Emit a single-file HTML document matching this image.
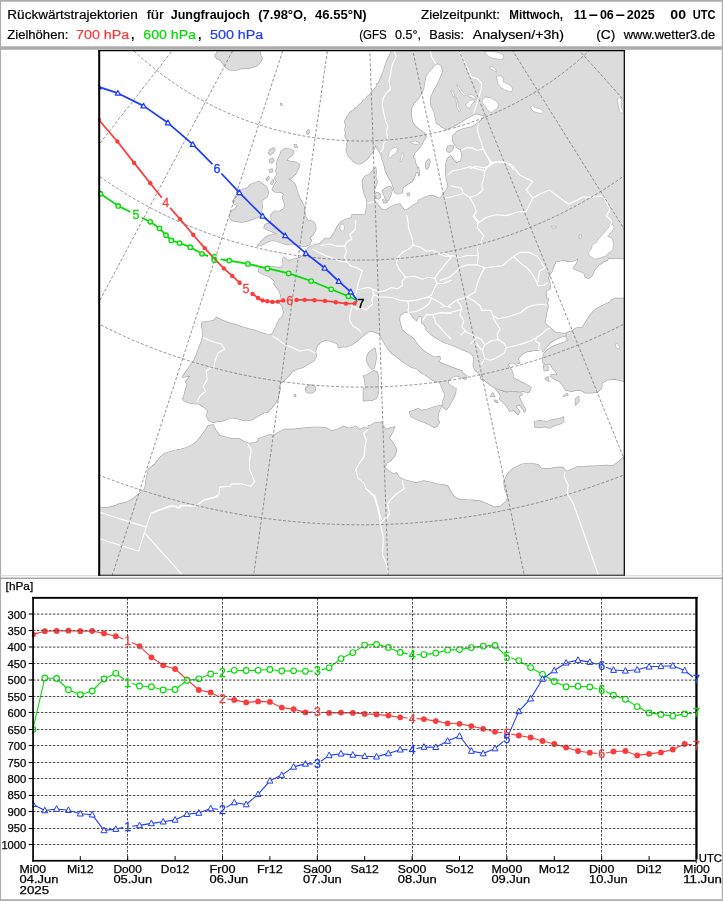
<!DOCTYPE html><html lang="de"><head><meta charset="utf-8"><title>Rückwärtstrajektorien Jungfraujoch</title>
<style>html,body{margin:0;padding:0;background:#fff;overflow:hidden}svg{display:block}text{font-family:"Liberation Sans",sans-serif}</style></head><body>
<svg width="723" height="901" viewBox="0 0 723 901">
<rect width="723" height="901" fill="#fff"/>
<rect x="0" y="0" width="723" height="1.7" fill="#adadad"/>
<rect x="0" y="0" width="1.1" height="901" fill="#adadad"/>
<rect x="721.8" y="0" width="1.2" height="901" fill="#adadad"/>
<rect x="0" y="899.2" width="723" height="1.8" fill="#adadad"/>
<rect x="0" y="46.3" width="723" height="3.5" fill="#adadad"/>
<rect x="0" y="575.2" width="723" height="1" fill="#d8d8d8"/>
<rect x="0" y="577.6" width="723" height="1.3" fill="#999"/>
<text x="7.3" y="19.0" font-size="12.5" fill="#000" textLength="130.4" lengthAdjust="spacingAndGlyphs" stroke="#000" stroke-width="0.2">Rückwärtstrajektorien</text>
<text x="146.7" y="19.0" font-size="12.5" fill="#000" textLength="17.3" lengthAdjust="spacingAndGlyphs" stroke="#000" stroke-width="0.2">für</text>
<text x="170.7" y="19.0" font-size="12.5" fill="#000" font-weight="bold" textLength="79.3" lengthAdjust="spacingAndGlyphs">Jungfraujoch</text>
<text x="258.3" y="19.0" font-size="12.5" fill="#000" font-weight="bold" textLength="48.4" lengthAdjust="spacingAndGlyphs">(7.98°O,</text>
<text x="315.0" y="19.0" font-size="12.5" fill="#000" font-weight="bold" textLength="51.7" lengthAdjust="spacingAndGlyphs">46.55°N)</text>
<text x="421.0" y="19.0" font-size="12.5" fill="#000" textLength="79.0" lengthAdjust="spacingAndGlyphs" stroke="#000" stroke-width="0.2">Zielzeitpunkt:</text>
<text x="509.3" y="19.0" font-size="12.5" fill="#000" font-weight="bold" textLength="53.7" lengthAdjust="spacingAndGlyphs">Mittwoch,</text>
<text x="573.7" y="19.0" font-size="12.5" fill="#000" font-weight="bold">11<tspan dx="1.2" textLength="10.6" lengthAdjust="spacingAndGlyphs">-</tspan><tspan dx="1.2">06</tspan><tspan dx="1.2" textLength="10.6" lengthAdjust="spacingAndGlyphs">-</tspan><tspan dx="1.2">2025</tspan></text>
<text x="670.3" y="19.0" font-size="12.5" fill="#000" font-weight="bold" textLength="15.7" lengthAdjust="spacingAndGlyphs">00</text>
<text x="692.7" y="19.0" font-size="12.5" fill="#000" font-weight="bold" textLength="22.8" lengthAdjust="spacingAndGlyphs">UTC</text>
<text x="7.3" y="38.6" font-size="12.5" fill="#000" textLength="61.0" lengthAdjust="spacingAndGlyphs" stroke="#000" stroke-width="0.2">Zielhöhen:</text>
<text x="76.0" y="38.6" font-size="12.5" fill="#fa3c3c" textLength="53.3" lengthAdjust="spacingAndGlyphs" stroke="#fa3c3c" stroke-width="0.2">700 hPa</text>
<text x="131.0" y="38.6" font-size="12.5" fill="#000" font-weight="bold">,</text>
<text x="143.3" y="38.6" font-size="12.5" fill="#00dc00" textLength="52.7" lengthAdjust="spacingAndGlyphs" stroke="#00dc00" stroke-width="0.2">600 hPa</text>
<text x="198.0" y="38.6" font-size="12.5" fill="#000" font-weight="bold">,</text>
<text x="210.0" y="38.6" font-size="12.5" fill="#1e3cff" textLength="53.3" lengthAdjust="spacingAndGlyphs" stroke="#1e3cff" stroke-width="0.2">500 hPa</text>
<text x="359.3" y="38.6" font-size="12.5" fill="#000" textLength="27.4" lengthAdjust="spacingAndGlyphs" stroke="#000" stroke-width="0.2">(GFS</text>
<text x="395.0" y="38.6" font-size="12.5" fill="#000" textLength="26.0" lengthAdjust="spacingAndGlyphs" stroke="#000" stroke-width="0.2">0.5°,</text>
<text x="429.3" y="38.6" font-size="12.5" fill="#000" textLength="34.7" lengthAdjust="spacingAndGlyphs" stroke="#000" stroke-width="0.2">Basis:</text>
<text x="472.7" y="38.6" font-size="12.5" fill="#000" textLength="91.3" lengthAdjust="spacingAndGlyphs" stroke="#000" stroke-width="0.2">Analysen/+3h)</text>
<text x="596.3" y="38.6" font-size="12.5" fill="#000" textLength="19.0" lengthAdjust="spacingAndGlyphs" stroke="#000" stroke-width="0.2">(C)</text>
<text x="623.7" y="38.6" font-size="12.5" fill="#000" textLength="91.6" lengthAdjust="spacingAndGlyphs" stroke="#000" stroke-width="0.2">www.wetter3.de</text>
<clipPath id="mc"><rect x="98.2" y="50.3" width="526.5999999999999" height="525.5"/></clipPath>
<g clip-path="url(#mc)">
<g fill="#dcdcdc" stroke="#a9a9a9" stroke-width="1.3" stroke-linejoin="round">
<polygon points="219.6,48.3 214.9,55.8 216.6,58.3 220.7,60.3 223.2,64.1 225.7,67.4 229.9,69.9 235.7,70.2 241.5,68.6 248.1,68.3 253.1,67.1 257.3,65.3 260.6,62.0 262.2,58.3 260.6,55.0 259.4,48.3"/>
<polygon points="280.5,103.4 282.2,104.1 281.7,105.4 280.7,104.8"/>
<polygon points="307.1,131.0 308.7,129.7 309.5,132.2 307.9,134.3 306.6,133.0"/>
<polygon points="294.3,144.6 296.3,144.9 296.9,147.3 294.6,147.3"/>
<polygon points="281.5,150.7 285.6,148.3 291.4,149.6 293.9,151.2 292.2,154.9 288.1,158.2 286.4,160.7 290.6,161.5 296.4,162.4 299.7,164.9 298.0,169.8 295.6,174.0 292.2,177.3 288.1,179.3 291.4,180.6 294.7,183.9 296.4,188.1 298.0,193.9 300.5,199.7 303.9,205.5 304.7,211.3 305.5,216.3 308.0,220.5 313.0,221.3 315.5,224.6 315.8,229.6 313.0,234.6 309.7,237.9 311.3,240.4 309.7,244.5 305.5,246.2 301.4,245.9 295.6,244.5 291.4,243.7 286.4,244.5 281.5,242.9 276.5,240.9 272.3,240.4 268.2,241.5 263.2,244.5 257.4,246.2 260.7,242.0 264.9,237.9 269.0,235.4 273.2,234.6 277.3,233.7 273.2,232.1 269.0,230.4 264.0,227.9 264.9,224.6 269.8,222.9 271.5,219.6 270.7,215.5 274.0,211.3 279.8,211.3 283.9,208.8 284.8,204.7 283.9,201.4 282.3,197.2 283.9,193.9 280.6,192.2 275.6,192.2 272.3,189.8 274.0,185.6 276.5,181.5 274.8,178.1 277.3,174.0 275.6,170.7 277.3,167.3 276.5,163.2 278.1,159.0 279.8,154.9"/>
<polygon points="268.5,153.2 269.8,149.9 273.5,147.9 275.1,149.6 272.8,152.9 269.8,154.9"/>
<polygon points="269.5,159.9 272.3,158.2 274.0,160.7 271.5,162.9 269.5,161.9"/>
<polygon points="269.0,169.8 272.3,169.0 272.8,171.5 269.8,172.3"/>
<polygon points="266.2,179.0 268.5,176.5 269.2,178.1 267.2,180.6"/>
<polygon points="270.7,183.1 272.8,179.8 273.8,181.5 271.8,184.4"/>
<polygon points="294.4,144.9 296.1,144.6 297.1,146.9 295.1,147.6"/>
<polygon points="249.9,184.8 254.9,182.8 259.0,181.5 262.4,183.9 266.5,187.3 268.5,192.2 267.3,196.4 264.0,198.9 261.5,201.4 262.4,206.3 261.5,211.3 259.9,215.5 256.6,218.0 251.6,219.6 246.6,221.0 241.6,222.1 236.6,221.3 231.7,220.5 230.0,218.0 230.0,213.8 232.5,210.5 235.8,208.0 237.5,205.5 234.1,203.9 232.5,201.4 235.0,198.0 238.3,195.6 236.6,192.2 240.0,189.8 244.9,188.9 248.3,187.3"/>
<polygon points="391.4,48.3 390.5,53.3 388.0,58.3 385.6,64.1 383.9,69.9 382.2,74.9 379.8,79.9 378.4,83.2 376.4,84.0 377.3,85.7 373.9,89.8 371.5,92.3 369.8,94.8 367.3,96.5 365.6,99.0 363.5,99.8 361.5,103.1 359.0,104.8 357.3,107.3 354.9,108.4 353.2,110.6 350.7,111.7 349.0,113.9 347.4,115.6 346.6,118.0 344.9,120.5 344.9,123.0 346.2,125.5 345.2,128.0 344.9,130.5 346.2,133.0 344.9,135.5 345.7,138.0 347.4,139.6 348.2,142.1 346.6,143.8 347.4,146.3 346.2,148.8 346.6,151.2 347.4,153.7 348.2,155.4 349.9,157.9 352.4,160.4 354.9,162.5 357.3,163.7 359.8,163.9 362.3,162.9 364.8,160.9 367.3,158.7 369.5,156.2 371.5,153.7 373.1,151.2 373.9,149.6 374.8,147.1 375.6,144.9 376.8,147.9 378.1,149.6 379.4,151.6 380.6,153.7 381.4,156.2 382.2,159.5 383.1,162.0 383.9,164.5 384.7,167.0 385.6,172.0 418.3,172.0 417.1,166.2 414.6,162.9 412.9,157.9 414.6,152.9 417.9,149.6 421.2,145.4 423.7,140.5 426.2,136.3 424.6,133.0 419.6,129.7 415.4,126.3 412.1,121.4 411.3,114.7 411.3,108.1 413.8,103.1 417.9,99.0 421.2,94.0 423.7,88.2 424.6,81.5 426.2,74.9 430.4,69.9 434.5,65.3 436.2,63.9 436.2,48.3"/>
<polygon points="425.6,166.2 426.2,162.0 428.7,159.2 429.9,160.9 428.7,164.5 427.1,168.2"/>
<polygon points="428.3,48.3 552.0,48.3 552.0,172.0 445.8,172.0 445.8,164.5 447.4,158.7 450.7,156.2 453.2,159.5 456.6,163.2 460.7,161.2 462.4,156.2 460.7,149.6 457.4,147.9 454.9,144.9 452.4,140.5 453.2,135.5 457.4,131.3 463.2,128.8 471.5,127.2 478.1,123.0 482.8,118.4 484.8,116.1 477.3,113.6 473.2,114.7 469.0,117.2 463.2,120.5 457.4,123.9 451.6,127.2 446.6,129.3 442.4,127.2 436.6,123.0 435.0,116.4 434.1,111.4 430.8,104.8 430.8,98.1 433.3,91.5 438.3,83.2 440.8,76.6 442.9,71.6 441.6,65.8 437.5,63.3 430.0,64.6 428.3,64.1"/>
<polygon points="446.6,149.6 447.9,146.3 450.7,145.3 453.6,146.3 452.6,149.6 449.6,152.2 447.3,151.6"/>
<polygon points="318.3,282.0 318.3,245.6 320.0,245.0 322.5,243.8 326.6,241.3 330.0,238.8 332.4,235.5 334.9,231.4 337.4,226.4 340.7,222.2 344.9,219.8 349.9,218.1 354.9,218.1 357.3,216.4 360.7,215.6 363.2,216.4 365.6,213.1 366.5,208.1 367.3,203.2 366.5,199.0 364.0,193.2 362.8,186.6 362.3,180.7 364.8,176.6 369.8,174.1 373.1,170.0 375.6,167.5 376.4,171.6 375.6,176.6 377.3,181.6 375.6,186.6 373.9,190.7 374.8,195.7 373.9,200.7 377.3,204.0 379.8,207.3 382.2,209.8 386.4,209.8 391.4,206.5 395.5,204.8 399.7,204.0 402.2,207.3 404.6,210.6 408.0,209.0 412.9,205.6 419.6,201.5 426.2,197.3 432.9,195.7 442.0,199.5 442.0,282.0"/>
<polygon points="384.4,158.3 384.7,163.3 385.6,170.0 388.0,176.6 391.4,181.6 393.0,186.6 394.7,192.4 398.0,194.0 402.2,192.4 403.0,187.4 406.3,184.9 412.1,181.6 415.4,174.9 416.3,166.6 414.6,158.3"/>
<polygon points="417.6,168.3 418.6,167.5 419.6,174.1 418.6,175.8"/>
<polygon points="425.9,168.0 426.6,162.5 428.7,160.0 429.9,161.7 428.7,166.6 427.1,169.1"/>
<polygon points="407.1,193.5 409.3,193.2 409.6,195.2 407.6,195.9"/>
<polygon points="374.8,194.0 377.3,192.4 380.1,194.0 380.7,197.3 378.1,199.0 375.6,197.8"/>
<polygon points="382.2,190.7 386.4,187.4 390.5,186.6 392.2,189.9 390.5,195.7 388.0,200.7 385.6,199.0 383.9,194.9"/>
<polygon points="382.7,199.8 385.6,200.7 387.2,202.3 383.9,202.8"/>
<polygon points="418.3,272.0 418.3,200.1 420.0,199.8 425.0,197.3 430.0,195.6 434.1,198.1 436.6,199.8 440.7,198.1 443.2,194.0 446.6,189.8 448.2,185.7 446.6,179.9 445.7,173.2 445.7,166.6 447.4,159.1 450.7,156.1 453.2,159.5 456.5,163.3 460.7,161.1 462.3,156.1 461.2,148.3 542.0,148.3 542.0,272.0"/>
<polygon points="536.0,48.0 627.0,48.0 627.0,202.0 536.0,202.0"/>
<polygon points="352.0,238.3 325.4,238.3 319.6,243.7 313.0,245.3 308.0,248.3 305.5,252.4 303.0,255.8 298.9,258.3 293.9,259.1 289.8,260.7 286.4,259.6 283.9,257.1 282.4,258.6 282.8,260.7 283.4,264.9 281.5,267.4 277.3,267.4 272.3,266.6 267.3,266.9 263.2,267.4 259.0,268.2 258.2,270.7 260.7,273.2 264.9,274.9 269.0,276.5 272.3,279.0 274.8,281.5 274.0,284.0 276.5,287.3 279.0,290.6 280.6,294.8 281.5,299.8 279.8,303.1 282.3,306.4 283.9,313.0 281.5,318.0 279.8,323.0 278.1,328.0 275.6,332.9 272.3,335.4 267.3,334.6 261.5,332.9 254.9,330.5 248.3,328.8 241.6,327.1 235.0,325.5 228.3,324.3 228.3,362.0 308.0,362.0 309.7,339.6 352.0,337.9"/>
<polygon points="252.0,331.2 250.0,330.7 242.9,327.4 236.2,324.9 229.6,323.2 222.9,320.7 216.3,317.4 213.8,320.7 208.0,321.6 202.2,322.4 201.4,326.6 203.0,330.7 203.0,335.7 201.4,341.5 198.9,348.1 196.4,354.8 193.9,360.6 189.8,366.4 185.6,372.2 182.3,377.2 187.3,376.3 190.6,375.5 187.3,379.7 185.6,382.2 187.3,384.6 185.6,389.6 183.9,396.3 183.9,400.4 188.9,402.9 194.7,403.7 199.7,403.7 203.9,406.2 208.0,409.5 210.5,412.9 208.0,416.2 209.7,420.0 213.0,422.0 222.9,420.8 229.6,418.2 239.5,417.3 252.0,418.2"/>
<polygon points="182.4,398.3 184.0,400.0 191.5,402.5 198.1,403.3 203.1,406.6 208.1,410.8 206.4,415.8 208.9,420.7 213.9,422.4 218.0,419.9 224.7,417.4 233.0,417.4 239.6,419.1 245.4,420.7 252.1,419.6 257.9,415.8 264.5,412.4 268.2,412.0 269.5,408.3 272.0,405.0 272.0,398.3"/>
<polygon points="148.3,469.4 150.0,468.0 155.0,463.9 160.0,457.3 166.6,453.1 174.9,450.6 183.2,449.0 191.5,445.6 197.3,441.5 201.5,435.7 205.6,429.9 208.1,425.7 213.1,424.9 215.6,429.9 219.7,435.7 226.3,437.3 233.0,439.0 239.6,439.0 243.8,441.5 249.6,443.5 256.2,442.3 261.2,439.0 266.2,436.5 272.0,434.9 272.0,522.0 148.3,522.0"/>
<polygon points="220.0,438.3 199.6,438.3 194.3,444.1 187.6,447.5 179.3,450.0 171.0,451.6 164.4,454.1 160.2,457.4 157.8,462.4 152.8,466.6 148.6,470.7 147.0,475.7 145.8,481.5 145.3,487.3 142.8,491.5 137.8,494.8 132.9,498.9 127.0,502.2 119.6,503.9 112.9,506.4 106.3,508.0 96.3,506.9 96.3,577.8 220.0,577.8"/>
<polygon points="215.0,512.0 627.0,512.0 627.0,578.0 215.0,578.0"/>
<polygon points="258.3,388.3 280.2,388.3 279.1,393.3 277.4,398.3 274.1,402.4 269.1,407.4 266.6,411.6 260.0,413.2 258.3,413.6"/>
<polygon points="258.3,438.5 260.0,438.1 265.0,436.5 269.1,434.8 272.4,437.3 276.6,433.5 284.1,429.5 293.2,429.5 303.2,428.2 313.1,427.3 321.4,427.3 327.2,428.2 331.4,431.2 336.3,429.5 339.7,428.5 343.0,426.2 348.0,428.2 352.1,428.2 355.9,426.5 359.6,429.5 364.6,427.3 367.9,429.0 374.5,424.0 382.0,421.9 382.0,512.0 258.3,512.0"/>
<polygon points="305.6,388.3 307.3,392.0 312.3,392.5 314.4,390.8 313.9,388.3"/>
<polygon points="368.3,426.0 370.0,425.7 374.1,423.2 378.3,422.4 382.4,424.0 385.8,429.8 389.9,428.2 394.9,426.8 392.4,432.3 389.1,438.1 393.2,443.1 396.6,449.8 394.9,455.6 390.7,460.5 386.6,463.0 384.9,468.0 389.1,471.3 393.2,473.8 396.6,473.0 399.0,477.1 403.2,479.6 409.8,481.3 416.5,482.9 423.1,481.0 429.8,482.1 436.4,483.8 443.0,484.9 447.7,485.9 450.5,491.2 453.8,496.2 458.0,499.2 466.3,499.9 474.6,500.4 482.9,502.5 492.0,505.9 492.0,522.0 368.3,522.0"/>
<polygon points="409.5,411.6 414.0,410.7 418.1,408.6 421.5,410.7 428.1,409.1 435.6,406.6 441.4,405.3 439.7,409.9 438.0,414.9 437.7,419.0 439.4,422.4 437.2,426.2 433.9,427.3 429.8,424.9 424.8,422.4 419.8,420.7 414.8,418.5 410.7,416.2"/>
<polygon points="443.9,388.3 445.5,394.1 443.0,401.6 442.7,406.6 446.3,409.6 449.3,404.9 451.3,400.8 452.2,396.6 455.5,393.3 456.0,388.3"/>
<polygon points="363.4,400.8 371.7,400.0 375.8,397.5 378.0,393.3 378.3,388.3 363.4,388.3"/>
<polygon points="477.9,500.6 480.0,501.2 486.2,503.7 494.5,507.5 500.7,506.2 505.9,501.7 508.0,497.5 504.9,489.2 503.9,482.0 507.0,474.7 513.2,468.5 521.5,464.3 529.8,463.3 538.1,464.7 541.2,468.5 548.5,468.9 556.8,467.4 563.0,467.4 566.1,471.6 571.3,469.5 577.5,466.8 587.9,466.4 598.3,466.0 606.6,465.4 612.8,466.0 618.0,462.2 623.2,457.7 627.3,455.6 627.3,532.8 477.9,532.8"/>
<polygon points="534.4,421.8 540.2,420.7 546.4,421.8 552.6,419.7 559.9,418.7 563.4,417.0 563.8,421.8 559.9,423.9 554.7,425.3 549.5,428.0 545.4,426.6 540.2,427.6 535.0,427.0"/>
<polygon points="248.3,330.3 250.0,330.3 256.6,331.3 263.3,334.1 269.9,336.1 273.2,332.4 275.7,327.5 277.4,323.3 279.9,318.3 372.0,318.3 372.0,330.0 370.0,330.8 366.2,333.3 361.2,337.4 356.2,341.6 351.2,344.9 346.3,346.9 341.3,346.6 336.3,343.2 331.3,341.2 325.5,340.2 321.4,341.6 317.2,345.7 315.6,350.7 316.1,356.5 313.9,360.7 308.1,364.0 303.1,367.3 297.3,369.0 292.3,371.5 289.0,375.6 284.9,379.8 280.7,383.1 278.2,388.0 277.4,393.9 278.2,398.8 274.9,403.8 271.6,408.0 268.3,411.3 263.3,412.9 258.3,415.4 253.3,418.8 248.3,419.9"/>
<polygon points="305.6,389.7 307.3,386.4 310.6,385.1 314.7,386.4 315.6,389.7 313.1,392.2 308.9,393.0 306.4,391.7"/>
<polygon points="294.1,395.0 295.5,394.7 295.8,396.0 294.5,396.3"/>
<polygon points="365.4,396.6 367.1,391.7 369.5,388.3 376.2,388.3 376.5,393.3 375.4,397.5 372.9,400.0 369.5,400.3 366.2,399.1"/>
<polygon points="338.3,347.8 340.0,347.3 345.0,345.6 350.0,343.2 355.8,339.8 360.7,335.7 364.9,331.5 367.4,329.9 373.2,331.5 379.0,334.0 382.3,339.0 384.8,344.0 388.1,349.0 391.5,353.1 396.4,356.4 401.4,360.6 406.4,363.9 411.4,367.2 417.2,368.9 421.3,373.0 426.3,375.5 430.5,378.8 434.6,381.3 439.6,382.2 441.2,385.5 442.9,390.5 445.4,394.6 445.4,399.6 443.7,405.4 446.2,409.5 449.5,405.4 452.0,400.4 454.5,396.3 455.4,391.3 452.9,387.1 448.7,384.6 447.9,381.3 451.2,378.0 456.2,375.5 462.0,376.7 462.0,371.0 456.2,368.9 449.5,366.4 442.9,363.9 437.9,361.4 440.4,358.9 439.6,356.4 434.6,357.3 429.6,354.8 424.6,351.5 420.5,348.1 417.2,344.0 413.9,339.0 409.7,335.7 405.6,333.2 402.2,329.9 400.6,324.9 399.4,319.9 399.8,315.8 403.9,312.4 408.9,311.6 411.4,314.9 413.9,318.3 416.7,320.7 418.0,316.6 420.5,315.8 422.2,319.1 421.3,322.4 424.6,324.9 426.6,329.9 430.3,333.9 435.3,337.2 440.2,340.5 445.2,343.0 451.9,345.0 462.0,347.1 462.0,298.3 338.3,298.3"/>
<polygon points="374.9,348.1 375.7,352.3 376.2,358.1 375.2,363.9 374.0,368.0 371.5,368.9 369.0,365.6 366.9,361.4 366.6,357.3 368.5,353.1 371.5,350.6"/>
<polygon points="374.0,370.5 377.3,372.2 378.5,378.0 377.8,384.6 378.5,390.5 377.3,396.3 375.7,398.8 372.4,397.9 370.7,400.4 367.4,399.6 365.2,395.4 366.2,389.6 365.2,383.8 364.6,378.8 363.2,376.0 366.6,375.0 370.7,373.0"/>
<polygon points="438.3,337.8 441.3,340.0 447.1,343.0 452.9,345.5 458.8,348.0 464.9,350.6 469.4,352.4 473.0,355.6 474.0,358.9 473.2,364.7 474.9,369.7 479.0,373.9 482.3,378.0 485.6,381.3 489.8,384.6 493.9,387.1 499.8,389.6 506.4,391.3 513.0,391.0 519.7,391.8 523.0,391.3 528.8,392.4 531.0,387.6 526.3,384.6 521.3,382.2 516.3,379.7 513.0,378.0 513.0,373.9 511.4,369.7 508.9,366.4 508.0,363.9 511.4,362.7 515.5,363.9 519.7,363.1 518.0,358.9 521.3,354.8 526.3,351.5 532.9,350.6 539.6,349.8 542.1,351.5 542.1,298.3 438.3,298.3"/>
<polygon points="456.6,369.7 458.3,370.5 463.2,373.0 466.6,376.3 465.7,379.3 462.4,378.0 457.4,375.5 455.8,375.5"/>
<polygon points="494.8,387.6 500.6,395.4 499.8,399.6 503.9,402.9 508.0,407.9 509.7,411.5 513.0,409.5 518.0,414.5 519.7,411.5 515.5,406.2 519.7,404.6 524.6,412.0 525.5,409.5 521.3,402.1 518.8,396.3 522.2,394.6 519.7,392.6 513.0,391.8 506.4,392.4 499.8,390.5"/>
<polygon points="490.6,396.3 492.8,392.9 494.8,396.6"/>
<polygon points="480.5,377.7 481.8,376.7 482.8,379.0 481.5,379.7"/>
<polygon points="494.4,400.2 497.3,401.2 497.8,402.6 495.1,401.6"/>
<polygon points="518.5,298.5 548.1,298.5 548.1,300.0 545.9,306.1 544.3,313.7 544.0,321.3 546.6,325.1 550.4,328.1 555.8,332.7 561.4,333.2 565.9,333.5 565.6,335.9 561.1,336.8 556.5,338.8 552.7,340.8 548.9,344.1 545.6,348.4 542.8,351.7 541.3,350.2 538.3,349.0 529.1,351.0 520.0,352.5 518.5,352.6"/>
<polygon points="566.4,332.7 571.7,331.2 576.3,328.1 582.4,327.4 585.4,322.8 590.0,315.2 594.5,310.6 602.2,306.1 609.8,302.3 614.3,298.5 626.5,298.5 626.5,381.4 625.0,381.4 614.3,379.1 606.7,379.9 602.2,382.9 601.4,388.2 597.6,392.0 591.5,392.8 585.4,392.8 580.9,390.5 577.1,389.8 571.7,391.3 565.6,389.8 562.6,385.2 559.6,381.4 554.2,379.1 550.4,376.1 551.9,374.5 557.3,375.3 555.8,371.5 552.7,368.5 550.4,363.9 546.6,364.7 542.8,362.4 542.8,357.1 544.3,353.2 547.4,350.2 551.2,347.2 558.0,344.4 565.6,341.8 568.7,339.9 566.4,338.0"/>
<polygon points="543.6,365.4 547.4,364.7 548.1,370.0 544.3,370.7"/>
<polygon points="545.1,378.4 548.1,376.8 548.9,381.4"/>
<polygon points="563.4,396.2 567.2,393.6 567.9,395.1"/>
<polygon points="575.5,398.9 578.6,396.6 579.0,401.2 575.5,405.0"/>
<polygon points="518.5,198.5 626.5,198.5 626.5,259.0 623.9,258.6 617.4,257.8 611.3,258.6 608.2,257.8 607.5,260.1 603.7,261.6 598.4,265.4 594.5,270.0 592.3,275.3 588.5,278.4 585.4,276.8 583.9,273.0 578.6,270.7 573.2,268.5 576.3,263.9 578.6,258.6 573.2,260.9 568.7,261.6 564.1,260.1 559.6,260.9 555.8,261.6 554.2,265.4 551.9,271.5 548.1,277.6 549.7,282.2 550.4,288.2 545.9,291.3 546.6,298.9 548.1,306.5 546.6,312.6 545.1,321.7 518.5,321.7"/>
<polygon points="626.5,298.1 623.9,298.9 617.4,301.2 612.0,299.7 609.8,302.7 603.7,305.0 597.6,308.0 593.0,311.8 590.0,316.4 588.2,321.7 626.5,321.7"/>
<polygon points="352.0,215.0 522.0,215.0 522.0,302.0 352.0,302.0"/>
</g>
<g fill="#dcdcdc" stroke="none">
<polygon points="219.6,48.3 214.9,55.8 216.6,58.3 220.7,60.3 223.2,64.1 225.7,67.4 229.9,69.9 235.7,70.2 241.5,68.6 248.1,68.3 253.1,67.1 257.3,65.3 260.6,62.0 262.2,58.3 260.6,55.0 259.4,48.3"/>
<polygon points="280.5,103.4 282.2,104.1 281.7,105.4 280.7,104.8"/>
<polygon points="307.1,131.0 308.7,129.7 309.5,132.2 307.9,134.3 306.6,133.0"/>
<polygon points="294.3,144.6 296.3,144.9 296.9,147.3 294.6,147.3"/>
<polygon points="281.5,150.7 285.6,148.3 291.4,149.6 293.9,151.2 292.2,154.9 288.1,158.2 286.4,160.7 290.6,161.5 296.4,162.4 299.7,164.9 298.0,169.8 295.6,174.0 292.2,177.3 288.1,179.3 291.4,180.6 294.7,183.9 296.4,188.1 298.0,193.9 300.5,199.7 303.9,205.5 304.7,211.3 305.5,216.3 308.0,220.5 313.0,221.3 315.5,224.6 315.8,229.6 313.0,234.6 309.7,237.9 311.3,240.4 309.7,244.5 305.5,246.2 301.4,245.9 295.6,244.5 291.4,243.7 286.4,244.5 281.5,242.9 276.5,240.9 272.3,240.4 268.2,241.5 263.2,244.5 257.4,246.2 260.7,242.0 264.9,237.9 269.0,235.4 273.2,234.6 277.3,233.7 273.2,232.1 269.0,230.4 264.0,227.9 264.9,224.6 269.8,222.9 271.5,219.6 270.7,215.5 274.0,211.3 279.8,211.3 283.9,208.8 284.8,204.7 283.9,201.4 282.3,197.2 283.9,193.9 280.6,192.2 275.6,192.2 272.3,189.8 274.0,185.6 276.5,181.5 274.8,178.1 277.3,174.0 275.6,170.7 277.3,167.3 276.5,163.2 278.1,159.0 279.8,154.9"/>
<polygon points="268.5,153.2 269.8,149.9 273.5,147.9 275.1,149.6 272.8,152.9 269.8,154.9"/>
<polygon points="269.5,159.9 272.3,158.2 274.0,160.7 271.5,162.9 269.5,161.9"/>
<polygon points="269.0,169.8 272.3,169.0 272.8,171.5 269.8,172.3"/>
<polygon points="266.2,179.0 268.5,176.5 269.2,178.1 267.2,180.6"/>
<polygon points="270.7,183.1 272.8,179.8 273.8,181.5 271.8,184.4"/>
<polygon points="294.4,144.9 296.1,144.6 297.1,146.9 295.1,147.6"/>
<polygon points="249.9,184.8 254.9,182.8 259.0,181.5 262.4,183.9 266.5,187.3 268.5,192.2 267.3,196.4 264.0,198.9 261.5,201.4 262.4,206.3 261.5,211.3 259.9,215.5 256.6,218.0 251.6,219.6 246.6,221.0 241.6,222.1 236.6,221.3 231.7,220.5 230.0,218.0 230.0,213.8 232.5,210.5 235.8,208.0 237.5,205.5 234.1,203.9 232.5,201.4 235.0,198.0 238.3,195.6 236.6,192.2 240.0,189.8 244.9,188.9 248.3,187.3"/>
<polygon points="391.4,48.3 390.5,53.3 388.0,58.3 385.6,64.1 383.9,69.9 382.2,74.9 379.8,79.9 378.4,83.2 376.4,84.0 377.3,85.7 373.9,89.8 371.5,92.3 369.8,94.8 367.3,96.5 365.6,99.0 363.5,99.8 361.5,103.1 359.0,104.8 357.3,107.3 354.9,108.4 353.2,110.6 350.7,111.7 349.0,113.9 347.4,115.6 346.6,118.0 344.9,120.5 344.9,123.0 346.2,125.5 345.2,128.0 344.9,130.5 346.2,133.0 344.9,135.5 345.7,138.0 347.4,139.6 348.2,142.1 346.6,143.8 347.4,146.3 346.2,148.8 346.6,151.2 347.4,153.7 348.2,155.4 349.9,157.9 352.4,160.4 354.9,162.5 357.3,163.7 359.8,163.9 362.3,162.9 364.8,160.9 367.3,158.7 369.5,156.2 371.5,153.7 373.1,151.2 373.9,149.6 374.8,147.1 375.6,144.9 376.8,147.9 378.1,149.6 379.4,151.6 380.6,153.7 381.4,156.2 382.2,159.5 383.1,162.0 383.9,164.5 384.7,167.0 385.6,172.0 418.3,172.0 417.1,166.2 414.6,162.9 412.9,157.9 414.6,152.9 417.9,149.6 421.2,145.4 423.7,140.5 426.2,136.3 424.6,133.0 419.6,129.7 415.4,126.3 412.1,121.4 411.3,114.7 411.3,108.1 413.8,103.1 417.9,99.0 421.2,94.0 423.7,88.2 424.6,81.5 426.2,74.9 430.4,69.9 434.5,65.3 436.2,63.9 436.2,48.3"/>
<polygon points="425.6,166.2 426.2,162.0 428.7,159.2 429.9,160.9 428.7,164.5 427.1,168.2"/>
<polygon points="428.3,48.3 552.0,48.3 552.0,172.0 445.8,172.0 445.8,164.5 447.4,158.7 450.7,156.2 453.2,159.5 456.6,163.2 460.7,161.2 462.4,156.2 460.7,149.6 457.4,147.9 454.9,144.9 452.4,140.5 453.2,135.5 457.4,131.3 463.2,128.8 471.5,127.2 478.1,123.0 482.8,118.4 484.8,116.1 477.3,113.6 473.2,114.7 469.0,117.2 463.2,120.5 457.4,123.9 451.6,127.2 446.6,129.3 442.4,127.2 436.6,123.0 435.0,116.4 434.1,111.4 430.8,104.8 430.8,98.1 433.3,91.5 438.3,83.2 440.8,76.6 442.9,71.6 441.6,65.8 437.5,63.3 430.0,64.6 428.3,64.1"/>
<polygon points="446.6,149.6 447.9,146.3 450.7,145.3 453.6,146.3 452.6,149.6 449.6,152.2 447.3,151.6"/>
<polygon points="318.3,282.0 318.3,245.6 320.0,245.0 322.5,243.8 326.6,241.3 330.0,238.8 332.4,235.5 334.9,231.4 337.4,226.4 340.7,222.2 344.9,219.8 349.9,218.1 354.9,218.1 357.3,216.4 360.7,215.6 363.2,216.4 365.6,213.1 366.5,208.1 367.3,203.2 366.5,199.0 364.0,193.2 362.8,186.6 362.3,180.7 364.8,176.6 369.8,174.1 373.1,170.0 375.6,167.5 376.4,171.6 375.6,176.6 377.3,181.6 375.6,186.6 373.9,190.7 374.8,195.7 373.9,200.7 377.3,204.0 379.8,207.3 382.2,209.8 386.4,209.8 391.4,206.5 395.5,204.8 399.7,204.0 402.2,207.3 404.6,210.6 408.0,209.0 412.9,205.6 419.6,201.5 426.2,197.3 432.9,195.7 442.0,199.5 442.0,282.0"/>
<polygon points="384.4,158.3 384.7,163.3 385.6,170.0 388.0,176.6 391.4,181.6 393.0,186.6 394.7,192.4 398.0,194.0 402.2,192.4 403.0,187.4 406.3,184.9 412.1,181.6 415.4,174.9 416.3,166.6 414.6,158.3"/>
<polygon points="417.6,168.3 418.6,167.5 419.6,174.1 418.6,175.8"/>
<polygon points="425.9,168.0 426.6,162.5 428.7,160.0 429.9,161.7 428.7,166.6 427.1,169.1"/>
<polygon points="407.1,193.5 409.3,193.2 409.6,195.2 407.6,195.9"/>
<polygon points="374.8,194.0 377.3,192.4 380.1,194.0 380.7,197.3 378.1,199.0 375.6,197.8"/>
<polygon points="382.2,190.7 386.4,187.4 390.5,186.6 392.2,189.9 390.5,195.7 388.0,200.7 385.6,199.0 383.9,194.9"/>
<polygon points="382.7,199.8 385.6,200.7 387.2,202.3 383.9,202.8"/>
<polygon points="418.3,272.0 418.3,200.1 420.0,199.8 425.0,197.3 430.0,195.6 434.1,198.1 436.6,199.8 440.7,198.1 443.2,194.0 446.6,189.8 448.2,185.7 446.6,179.9 445.7,173.2 445.7,166.6 447.4,159.1 450.7,156.1 453.2,159.5 456.5,163.3 460.7,161.1 462.3,156.1 461.2,148.3 542.0,148.3 542.0,272.0"/>
<polygon points="536.0,48.0 627.0,48.0 627.0,202.0 536.0,202.0"/>
<polygon points="352.0,238.3 325.4,238.3 319.6,243.7 313.0,245.3 308.0,248.3 305.5,252.4 303.0,255.8 298.9,258.3 293.9,259.1 289.8,260.7 286.4,259.6 283.9,257.1 282.4,258.6 282.8,260.7 283.4,264.9 281.5,267.4 277.3,267.4 272.3,266.6 267.3,266.9 263.2,267.4 259.0,268.2 258.2,270.7 260.7,273.2 264.9,274.9 269.0,276.5 272.3,279.0 274.8,281.5 274.0,284.0 276.5,287.3 279.0,290.6 280.6,294.8 281.5,299.8 279.8,303.1 282.3,306.4 283.9,313.0 281.5,318.0 279.8,323.0 278.1,328.0 275.6,332.9 272.3,335.4 267.3,334.6 261.5,332.9 254.9,330.5 248.3,328.8 241.6,327.1 235.0,325.5 228.3,324.3 228.3,362.0 308.0,362.0 309.7,339.6 352.0,337.9"/>
<polygon points="252.0,331.2 250.0,330.7 242.9,327.4 236.2,324.9 229.6,323.2 222.9,320.7 216.3,317.4 213.8,320.7 208.0,321.6 202.2,322.4 201.4,326.6 203.0,330.7 203.0,335.7 201.4,341.5 198.9,348.1 196.4,354.8 193.9,360.6 189.8,366.4 185.6,372.2 182.3,377.2 187.3,376.3 190.6,375.5 187.3,379.7 185.6,382.2 187.3,384.6 185.6,389.6 183.9,396.3 183.9,400.4 188.9,402.9 194.7,403.7 199.7,403.7 203.9,406.2 208.0,409.5 210.5,412.9 208.0,416.2 209.7,420.0 213.0,422.0 222.9,420.8 229.6,418.2 239.5,417.3 252.0,418.2"/>
<polygon points="182.4,398.3 184.0,400.0 191.5,402.5 198.1,403.3 203.1,406.6 208.1,410.8 206.4,415.8 208.9,420.7 213.9,422.4 218.0,419.9 224.7,417.4 233.0,417.4 239.6,419.1 245.4,420.7 252.1,419.6 257.9,415.8 264.5,412.4 268.2,412.0 269.5,408.3 272.0,405.0 272.0,398.3"/>
<polygon points="148.3,469.4 150.0,468.0 155.0,463.9 160.0,457.3 166.6,453.1 174.9,450.6 183.2,449.0 191.5,445.6 197.3,441.5 201.5,435.7 205.6,429.9 208.1,425.7 213.1,424.9 215.6,429.9 219.7,435.7 226.3,437.3 233.0,439.0 239.6,439.0 243.8,441.5 249.6,443.5 256.2,442.3 261.2,439.0 266.2,436.5 272.0,434.9 272.0,522.0 148.3,522.0"/>
<polygon points="220.0,438.3 199.6,438.3 194.3,444.1 187.6,447.5 179.3,450.0 171.0,451.6 164.4,454.1 160.2,457.4 157.8,462.4 152.8,466.6 148.6,470.7 147.0,475.7 145.8,481.5 145.3,487.3 142.8,491.5 137.8,494.8 132.9,498.9 127.0,502.2 119.6,503.9 112.9,506.4 106.3,508.0 96.3,506.9 96.3,577.8 220.0,577.8"/>
<polygon points="215.0,512.0 627.0,512.0 627.0,578.0 215.0,578.0"/>
<polygon points="258.3,388.3 280.2,388.3 279.1,393.3 277.4,398.3 274.1,402.4 269.1,407.4 266.6,411.6 260.0,413.2 258.3,413.6"/>
<polygon points="258.3,438.5 260.0,438.1 265.0,436.5 269.1,434.8 272.4,437.3 276.6,433.5 284.1,429.5 293.2,429.5 303.2,428.2 313.1,427.3 321.4,427.3 327.2,428.2 331.4,431.2 336.3,429.5 339.7,428.5 343.0,426.2 348.0,428.2 352.1,428.2 355.9,426.5 359.6,429.5 364.6,427.3 367.9,429.0 374.5,424.0 382.0,421.9 382.0,512.0 258.3,512.0"/>
<polygon points="305.6,388.3 307.3,392.0 312.3,392.5 314.4,390.8 313.9,388.3"/>
<polygon points="368.3,426.0 370.0,425.7 374.1,423.2 378.3,422.4 382.4,424.0 385.8,429.8 389.9,428.2 394.9,426.8 392.4,432.3 389.1,438.1 393.2,443.1 396.6,449.8 394.9,455.6 390.7,460.5 386.6,463.0 384.9,468.0 389.1,471.3 393.2,473.8 396.6,473.0 399.0,477.1 403.2,479.6 409.8,481.3 416.5,482.9 423.1,481.0 429.8,482.1 436.4,483.8 443.0,484.9 447.7,485.9 450.5,491.2 453.8,496.2 458.0,499.2 466.3,499.9 474.6,500.4 482.9,502.5 492.0,505.9 492.0,522.0 368.3,522.0"/>
<polygon points="409.5,411.6 414.0,410.7 418.1,408.6 421.5,410.7 428.1,409.1 435.6,406.6 441.4,405.3 439.7,409.9 438.0,414.9 437.7,419.0 439.4,422.4 437.2,426.2 433.9,427.3 429.8,424.9 424.8,422.4 419.8,420.7 414.8,418.5 410.7,416.2"/>
<polygon points="443.9,388.3 445.5,394.1 443.0,401.6 442.7,406.6 446.3,409.6 449.3,404.9 451.3,400.8 452.2,396.6 455.5,393.3 456.0,388.3"/>
<polygon points="363.4,400.8 371.7,400.0 375.8,397.5 378.0,393.3 378.3,388.3 363.4,388.3"/>
<polygon points="477.9,500.6 480.0,501.2 486.2,503.7 494.5,507.5 500.7,506.2 505.9,501.7 508.0,497.5 504.9,489.2 503.9,482.0 507.0,474.7 513.2,468.5 521.5,464.3 529.8,463.3 538.1,464.7 541.2,468.5 548.5,468.9 556.8,467.4 563.0,467.4 566.1,471.6 571.3,469.5 577.5,466.8 587.9,466.4 598.3,466.0 606.6,465.4 612.8,466.0 618.0,462.2 623.2,457.7 627.3,455.6 627.3,532.8 477.9,532.8"/>
<polygon points="534.4,421.8 540.2,420.7 546.4,421.8 552.6,419.7 559.9,418.7 563.4,417.0 563.8,421.8 559.9,423.9 554.7,425.3 549.5,428.0 545.4,426.6 540.2,427.6 535.0,427.0"/>
<polygon points="248.3,330.3 250.0,330.3 256.6,331.3 263.3,334.1 269.9,336.1 273.2,332.4 275.7,327.5 277.4,323.3 279.9,318.3 372.0,318.3 372.0,330.0 370.0,330.8 366.2,333.3 361.2,337.4 356.2,341.6 351.2,344.9 346.3,346.9 341.3,346.6 336.3,343.2 331.3,341.2 325.5,340.2 321.4,341.6 317.2,345.7 315.6,350.7 316.1,356.5 313.9,360.7 308.1,364.0 303.1,367.3 297.3,369.0 292.3,371.5 289.0,375.6 284.9,379.8 280.7,383.1 278.2,388.0 277.4,393.9 278.2,398.8 274.9,403.8 271.6,408.0 268.3,411.3 263.3,412.9 258.3,415.4 253.3,418.8 248.3,419.9"/>
<polygon points="305.6,389.7 307.3,386.4 310.6,385.1 314.7,386.4 315.6,389.7 313.1,392.2 308.9,393.0 306.4,391.7"/>
<polygon points="294.1,395.0 295.5,394.7 295.8,396.0 294.5,396.3"/>
<polygon points="365.4,396.6 367.1,391.7 369.5,388.3 376.2,388.3 376.5,393.3 375.4,397.5 372.9,400.0 369.5,400.3 366.2,399.1"/>
<polygon points="338.3,347.8 340.0,347.3 345.0,345.6 350.0,343.2 355.8,339.8 360.7,335.7 364.9,331.5 367.4,329.9 373.2,331.5 379.0,334.0 382.3,339.0 384.8,344.0 388.1,349.0 391.5,353.1 396.4,356.4 401.4,360.6 406.4,363.9 411.4,367.2 417.2,368.9 421.3,373.0 426.3,375.5 430.5,378.8 434.6,381.3 439.6,382.2 441.2,385.5 442.9,390.5 445.4,394.6 445.4,399.6 443.7,405.4 446.2,409.5 449.5,405.4 452.0,400.4 454.5,396.3 455.4,391.3 452.9,387.1 448.7,384.6 447.9,381.3 451.2,378.0 456.2,375.5 462.0,376.7 462.0,371.0 456.2,368.9 449.5,366.4 442.9,363.9 437.9,361.4 440.4,358.9 439.6,356.4 434.6,357.3 429.6,354.8 424.6,351.5 420.5,348.1 417.2,344.0 413.9,339.0 409.7,335.7 405.6,333.2 402.2,329.9 400.6,324.9 399.4,319.9 399.8,315.8 403.9,312.4 408.9,311.6 411.4,314.9 413.9,318.3 416.7,320.7 418.0,316.6 420.5,315.8 422.2,319.1 421.3,322.4 424.6,324.9 426.6,329.9 430.3,333.9 435.3,337.2 440.2,340.5 445.2,343.0 451.9,345.0 462.0,347.1 462.0,298.3 338.3,298.3"/>
<polygon points="374.9,348.1 375.7,352.3 376.2,358.1 375.2,363.9 374.0,368.0 371.5,368.9 369.0,365.6 366.9,361.4 366.6,357.3 368.5,353.1 371.5,350.6"/>
<polygon points="374.0,370.5 377.3,372.2 378.5,378.0 377.8,384.6 378.5,390.5 377.3,396.3 375.7,398.8 372.4,397.9 370.7,400.4 367.4,399.6 365.2,395.4 366.2,389.6 365.2,383.8 364.6,378.8 363.2,376.0 366.6,375.0 370.7,373.0"/>
<polygon points="438.3,337.8 441.3,340.0 447.1,343.0 452.9,345.5 458.8,348.0 464.9,350.6 469.4,352.4 473.0,355.6 474.0,358.9 473.2,364.7 474.9,369.7 479.0,373.9 482.3,378.0 485.6,381.3 489.8,384.6 493.9,387.1 499.8,389.6 506.4,391.3 513.0,391.0 519.7,391.8 523.0,391.3 528.8,392.4 531.0,387.6 526.3,384.6 521.3,382.2 516.3,379.7 513.0,378.0 513.0,373.9 511.4,369.7 508.9,366.4 508.0,363.9 511.4,362.7 515.5,363.9 519.7,363.1 518.0,358.9 521.3,354.8 526.3,351.5 532.9,350.6 539.6,349.8 542.1,351.5 542.1,298.3 438.3,298.3"/>
<polygon points="456.6,369.7 458.3,370.5 463.2,373.0 466.6,376.3 465.7,379.3 462.4,378.0 457.4,375.5 455.8,375.5"/>
<polygon points="494.8,387.6 500.6,395.4 499.8,399.6 503.9,402.9 508.0,407.9 509.7,411.5 513.0,409.5 518.0,414.5 519.7,411.5 515.5,406.2 519.7,404.6 524.6,412.0 525.5,409.5 521.3,402.1 518.8,396.3 522.2,394.6 519.7,392.6 513.0,391.8 506.4,392.4 499.8,390.5"/>
<polygon points="490.6,396.3 492.8,392.9 494.8,396.6"/>
<polygon points="480.5,377.7 481.8,376.7 482.8,379.0 481.5,379.7"/>
<polygon points="494.4,400.2 497.3,401.2 497.8,402.6 495.1,401.6"/>
<polygon points="518.5,298.5 548.1,298.5 548.1,300.0 545.9,306.1 544.3,313.7 544.0,321.3 546.6,325.1 550.4,328.1 555.8,332.7 561.4,333.2 565.9,333.5 565.6,335.9 561.1,336.8 556.5,338.8 552.7,340.8 548.9,344.1 545.6,348.4 542.8,351.7 541.3,350.2 538.3,349.0 529.1,351.0 520.0,352.5 518.5,352.6"/>
<polygon points="566.4,332.7 571.7,331.2 576.3,328.1 582.4,327.4 585.4,322.8 590.0,315.2 594.5,310.6 602.2,306.1 609.8,302.3 614.3,298.5 626.5,298.5 626.5,381.4 625.0,381.4 614.3,379.1 606.7,379.9 602.2,382.9 601.4,388.2 597.6,392.0 591.5,392.8 585.4,392.8 580.9,390.5 577.1,389.8 571.7,391.3 565.6,389.8 562.6,385.2 559.6,381.4 554.2,379.1 550.4,376.1 551.9,374.5 557.3,375.3 555.8,371.5 552.7,368.5 550.4,363.9 546.6,364.7 542.8,362.4 542.8,357.1 544.3,353.2 547.4,350.2 551.2,347.2 558.0,344.4 565.6,341.8 568.7,339.9 566.4,338.0"/>
<polygon points="543.6,365.4 547.4,364.7 548.1,370.0 544.3,370.7"/>
<polygon points="545.1,378.4 548.1,376.8 548.9,381.4"/>
<polygon points="563.4,396.2 567.2,393.6 567.9,395.1"/>
<polygon points="575.5,398.9 578.6,396.6 579.0,401.2 575.5,405.0"/>
<polygon points="518.5,198.5 626.5,198.5 626.5,259.0 623.9,258.6 617.4,257.8 611.3,258.6 608.2,257.8 607.5,260.1 603.7,261.6 598.4,265.4 594.5,270.0 592.3,275.3 588.5,278.4 585.4,276.8 583.9,273.0 578.6,270.7 573.2,268.5 576.3,263.9 578.6,258.6 573.2,260.9 568.7,261.6 564.1,260.1 559.6,260.9 555.8,261.6 554.2,265.4 551.9,271.5 548.1,277.6 549.7,282.2 550.4,288.2 545.9,291.3 546.6,298.9 548.1,306.5 546.6,312.6 545.1,321.7 518.5,321.7"/>
<polygon points="626.5,298.1 623.9,298.9 617.4,301.2 612.0,299.7 609.8,302.7 603.7,305.0 597.6,308.0 593.0,311.8 590.0,316.4 588.2,321.7 626.5,321.7"/>
<polygon points="352.0,215.0 522.0,215.0 522.0,302.0 352.0,302.0"/>
</g>
<g fill="#fff" stroke="#a9a9a9" stroke-width="0.6" stroke-linejoin="round">
<polygon points="484.8,52.0 488.1,51.3 496.4,52.0 503.0,54.1 503.9,58.3 500.5,59.6 494.7,58.6 489.8,57.5 486.4,54.6"/>
<polygon points="489.4,66.6 492.2,66.6 495.6,69.1 496.4,72.4 493.9,70.7 490.6,68.6"/>
<polygon points="496.4,76.6 500.5,75.7 503.9,78.2 503.0,81.5 508.0,84.0 512.2,87.3 512.5,90.7 509.7,91.8 504.7,89.8 500.5,87.3 497.7,83.2 497.2,79.9"/>
<polygon points="482.8,99.0 485.6,97.0 490.6,97.8 495.6,100.6 498.4,103.9 497.7,108.1 493.9,110.6 491.4,112.7 488.1,110.6 485.6,107.3 483.1,103.9 481.8,101.5"/>
<polygon points="530.4,107.3 533.7,104.8 534.2,107.3 540.4,108.9 543.7,111.4 542.0,113.4 537.1,112.7 532.9,111.1"/>
<polygon points="533.7,93.5 537.9,92.8 539.5,94.8 536.2,95.1"/>
<polygon points="454.6,97.8 455.9,99.8 456.9,107.3 459.2,111.7 460.5,111.1 458.5,106.4 457.2,99.8 455.9,97.3"/>
<polygon points="465.7,104.8 469.8,100.6 473.5,99.5 474.5,101.5 471.5,104.8 469.8,108.1 466.5,107.3"/>
<polygon points="467.8,95.1 471.5,94.5 475.6,97.3 474.8,99.8 471.5,97.3 468.5,96.8"/>
<polygon points="450.7,90.7 453.2,91.5 454.9,96.5 453.6,97.3"/>
<polygon points="456.6,84.9 458.2,85.2 462.4,91.5 465.7,94.8 464.9,96.1 460.7,92.8"/>
<polygon points="388.5,156.2 389.4,151.2 393.0,147.9 396.7,147.1 397.7,149.6 395.5,153.7 392.2,155.4 390.5,157.9"/>
<polygon points="400.0,160.9 401.3,155.4 403.0,152.6 403.8,154.6 402.5,159.5 401.0,162.0"/>
<polygon points="410.5,142.1 415.4,141.0 419.6,142.9 417.9,144.6 412.9,143.8"/>
<polygon points="339.9,225.6 342.4,223.9 344.6,226.4 344.1,230.5 341.6,231.4 339.9,228.9"/>
<polygon points="617.1,99.0 620.4,97.3 621.6,101.5 620.9,106.4 623.2,111.7 622.6,113.9 619.6,111.4 618.3,105.6"/>
<polygon points="615.1,344.1 617.4,343.4 619.7,347.2 618.9,349.0 616.2,347.9"/>
<polygon points="588.5,252.5 591.5,248.7 592.3,244.9 596.1,242.6 599.1,238.0 602.9,234.2 606.7,229.7 609.8,225.9 612.8,224.3 614.3,227.4 611.3,231.9 607.5,236.5 612.0,238.0 613.6,243.4 612.8,250.2 608.2,253.2 605.2,256.3 600.6,257.8 594.5,259.3 591.5,257.1 589.2,255.5"/>
<polygon points="551.2,226.2 555.8,226.2 556.5,227.7 552.7,228.1"/>
<polygon points="579.0,235.8 580.9,234.2 581.6,237.3 579.6,238.8"/>
</g>
<g fill="none" stroke="#fff" stroke-width="1.15" stroke-linejoin="round">
<polyline points="393.9,50.0 396.3,56.6 393.0,63.3 391.4,68.3 390.5,74.9 388.9,81.5 390.5,89.0 386.4,93.2 383.1,98.1 382.2,104.8 383.9,113.1 385.6,121.4 388.0,126.3 386.4,131.3 387.7,139.6 383.9,142.9 382.7,149.6 380.6,152.1"/>
<polyline points="430.4,50.0 431.5,56.6 434.5,61.6 436.2,64.1"/>
<polyline points="459.0,50.0 461.5,56.6 465.7,64.9 468.5,69.9 471.5,77.4 477.3,78.5 481.5,83.2 481.1,89.8 479.0,96.5 476.5,104.8 473.5,113.9"/>
<polyline points="478.5,123.0 477.3,129.7 479.0,136.3 481.5,142.9 483.1,148.8"/>
<polyline points="461.5,150.4 465.7,147.9 471.5,147.9 477.3,150.4 483.1,149.1 487.3,156.2 490.6,162.9 489.8,166.2"/>
<polyline points="469.8,168.7 475.6,166.2 483.1,167.8 489.8,166.2 493.1,162.9 499.7,162.0 506.3,162.9 511.3,164.5 513.0,170.0"/>
<polyline points="367.3,203.5 369.8,202.8 373.9,201.5"/>
<polyline points="447.4,174.9 453.2,170.7 461.5,169.1 469.8,166.6 478.1,169.1 484.7,170.7 491.4,162.4 486.4,155.0 483.9,150.0"/>
<polyline points="484.7,170.7 483.9,178.2 481.4,184.9 483.1,189.8 477.3,194.8 469.8,197.3"/>
<polyline points="444.9,198.1 453.2,196.5 463.2,193.5 461.5,188.2 450.7,185.7"/>
<polyline points="463.2,193.5 469.8,197.3 473.9,204.8 476.4,211.4 473.1,216.4 478.1,223.0"/>
<polyline points="478.1,223.0 486.4,217.2 496.3,214.7 506.3,215.6 516.3,212.2 526.2,211.4 532.9,198.1 540.0,194.0"/>
<polyline points="491.4,162.4 503.0,161.6 512.9,166.6 519.6,174.9 532.9,181.5 526.2,189.8 532.9,198.1"/>
<polyline points="272.3,335.9 278.1,339.6 284.8,344.6 293.1,347.9 299.7,351.2 308.0,349.5 315.5,352.9"/>
<polyline points="203.0,337.3 208.0,339.8 214.6,342.3 221.3,344.0 224.6,349.0 218.0,353.1 215.5,359.8 213.8,366.4 206.3,370.5 207.2,379.7 203.0,386.3 205.5,391.3 199.7,396.3 197.2,401.6"/>
<polyline points="247.1,443.5 251.2,449.8 249.6,459.8 249.6,469.7 254.6,481.3 251.2,486.3 241.3,483.8 231.3,483.8 230.5,486.3 219.7,487.1 218.9,494.6 213.1,497.9 203.1,500.4 196.5,506.2 179.9,505.4 179.0,507.9 171.6,505.4 160.0,509.5 150.0,514.5"/>
<polyline points="99.7,512.2 146.1,527.1 151.1,513.0 172.7,505.6 179.3,508.0 182.6,505.2 195.9,506.1 204.2,499.8 218.0,496.4"/>
<polyline points="146.1,527.1 138.7,551.2 99.7,538.8"/>
<polyline points="144.5,532.9 181.8,574.4"/>
<polyline points="367.9,429.5 363.7,433.5 366.2,439.8 364.9,448.1 364.2,456.4 359.6,463.0 355.9,469.3 357.9,478.0 363.7,482.9 366.2,488.8 374.5,496.2 377.8,506.2 378.7,510.0"/>
<polyline points="402.4,479.6 403.2,485.4 404.0,488.8 396.6,493.7 390.7,499.5 387.4,504.5 389.6,512.8 386.6,520.0"/>
<polyline points="370.0,492.9 374.1,496.2 378.3,509.5 381.6,520.0"/>
<polyline points="565.1,471.6 564.0,476.8 568.2,485.1 567.1,493.4 573.4,503.7 582.7,530.1"/>
<polyline points="356.0,220.2 355.0,229.5 349.8,234.7 351.9,238.9 346.7,242.0 344.6,246.1"/>
<polyline points="320.7,245.7 329.0,244.0 337.3,246.1 344.6,246.1 346.7,251.3 344.6,256.5 346.7,261.7"/>
<polyline points="312.4,249.2 318.7,252.3 324.9,255.5 331.1,257.5 336.3,259.6 341.5,261.7 346.7,261.7 350.8,265.8 357.1,267.9 362.2,271.0 360.2,277.2 358.1,283.5 357.1,289.7"/>
<polyline points="357.1,289.7 362.2,288.7 368.0,287.4 372.6,289.1 373.9,294.9 371.8,299.0 372.6,304.2 369.1,306.9 366.0,310.0 361.8,307.9 357.3,309.2 353.5,306.3 351.9,307.3 352.9,301.1 355.0,295.9 357.1,289.7"/>
<polyline points="351.9,307.7 349.8,314.6 349.8,320.8 352.9,326.0 358.1,329.1 361.4,332.4"/>
<polyline points="372.6,289.1 378.8,291.8 385.1,290.7 391.3,287.6 397.5,288.7 402.7,285.5 401.7,281.4 405.8,277.2"/>
<polyline points="373.9,294.9 379.9,297.0 387.1,297.0 393.4,298.0 399.6,300.1 407.9,301.1 416.2,300.1 424.5,298.0 427.6,297.0 431.7,294.9 433.8,289.7 436.9,283.5 434.9,278.3"/>
<polyline points="405.8,277.2 414.1,276.2 422.4,279.3 428.6,277.2 434.9,278.3 438.0,273.1 443.2,266.9 447.3,261.7 451.5,257.1"/>
<polyline points="405.8,277.2 399.6,270.0 396.5,263.8 397.5,257.5 402.7,252.3 410.0,248.2 413.1,245.1 420.3,247.2 426.6,251.3 432.8,250.3 439.0,253.4 445.2,253.4 451.5,256.9"/>
<polyline points="413.1,245.1 412.0,237.8 408.9,229.5 407.9,221.2 406.8,215.0"/>
<polyline points="407.9,301.1 408.9,306.3 407.9,310.4 408.9,313.5"/>
<polyline points="408.9,312.5 416.2,311.5 422.4,308.4 428.6,304.2 431.7,298.0 427.6,297.0"/>
<polyline points="431.7,298.0 439.0,302.1 445.2,306.3 451.5,307.5"/>
<polyline points="436.9,283.5 443.2,283.5 451.5,280.1"/>
<polyline points="422.4,320.8 426.6,314.6 432.8,314.6 441.1,312.5 451.5,313.8"/>
<polyline points="432.8,314.6 435.9,322.9 443.2,331.2 451.5,339.5"/>
<polyline points="473.2,215.0 478.4,221.2 477.3,227.4 483.6,235.7 480.5,243.0 477.3,249.2 478.4,255.5"/>
<polyline points="439.0,253.8 446.2,256.5 452.4,255.5 459.7,257.5 467.0,255.5 478.4,255.5 477.3,264.8"/>
<polyline points="440.0,280.4 449.3,277.2 455.6,272.1 460.7,266.9 468.0,264.8 477.3,264.8 484.6,267.9 480.5,275.2 477.3,283.5 475.3,291.8 467.0,297.0"/>
<polyline points="484.6,267.9 492.9,266.9 502.2,265.8 508.5,260.6 513.7,256.5 519.9,262.7 527.1,267.9 532.3,274.1 536.5,281.4 537.5,285.5 543.7,285.5 547.9,282.4"/>
<polyline points="513.7,256.5 519.9,252.3 529.2,252.3 537.5,256.5 541.7,262.7 544.8,267.9 539.6,271.0 538.5,277.2 537.5,284.5"/>
<polyline points="467.0,297.0 474.2,301.1 480.5,306.3 481.5,310.4 490.8,310.4 492.9,315.6 498.1,318.7 508.5,316.7 520.9,312.5 527.1,307.3 533.4,305.2 541.7,304.2 546.8,305.2"/>
<polyline points="492.9,316.7 496.0,322.9 500.2,329.1 497.1,334.3 498.1,339.5 504.3,343.6 506.4,347.8 514.7,345.7 523.0,343.6 531.3,340.5 536.5,337.4 541.7,334.3 545.8,330.1 550.0,328.1"/>
<polyline points="536.5,337.4 535.4,341.6 539.6,343.6 538.5,348.8 541.7,351.9"/>
<polyline points="498.1,339.5 491.9,340.5 484.6,344.7 482.5,349.9 484.6,358.2 489.8,360.2 496.0,358.2 504.3,353.0 506.4,347.8"/>
<polyline points="470.1,343.6 474.2,340.5 477.3,344.7 481.5,349.9"/>
<polyline points="484.6,358.2 481.5,365.0"/>
<polyline points="460.7,335.3 464.9,331.2 471.1,334.3 476.3,337.4 474.2,340.5"/>
<polyline points="461.8,309.4 459.7,314.6 463.9,320.8 461.8,327.0 465.9,331.2"/>
<polyline points="440.0,307.3 448.3,306.3 456.6,300.1 467.0,297.0"/>
<polyline points="456.6,300.1 460.7,305.2 461.8,309.4 450.4,312.5 440.0,312.9"/>
<polyline points="476.3,337.4 481.5,339.5 484.6,344.7"/>
<polyline points="540.1,193.8 549.4,190.0 556.3,195.2 563.3,200.4 568.5,203.9 577.1,200.4 582.3,197.0 592.7,197.0 603.0,195.9 606.5,202.1 609.9,209.1 606.5,216.0 611.7,221.2 609.9,228.1 606.5,235.0 606.5,241.9"/>
<polyline points="374.6,494.3 378.1,509.9 380.5,523.7 383.3,537.6 382.6,554.9 386.7,565.2 388.5,577.3"/>
<polyline points="389.5,513.4 380.5,523.7"/>
<polyline points="582.7,530.0 599.0,577.0"/>
</g>
<g fill="none" stroke="#727272" stroke-width="0.75" stroke-dasharray="3 1.9">
<circle cx="361.4" cy="-191.4" r="868.6"/>
<circle cx="361.4" cy="-191.4" r="716.2"/>
<circle cx="361.4" cy="-191.4" r="578.5"/>
<circle cx="361.4" cy="-191.4" r="451.5"/>
<circle cx="361.4" cy="-191.4" r="332.4"/>
<circle cx="361.4" cy="-191.4" r="218.7"/>
<circle cx="361.4" cy="-191.4" r="108.5"/>
<line x1="361.4" y1="-191.4" x2="-603.7" y2="198.5"/>
<line x1="361.4" y1="-191.4" x2="-521.3" y2="360.2"/>
<line x1="361.4" y1="-191.4" x2="-412.1" y2="505.1"/>
<line x1="361.4" y1="-191.4" x2="-279.4" y2="628.8"/>
<line x1="361.4" y1="-191.4" x2="-127.3" y2="727.7"/>
<line x1="361.4" y1="-191.4" x2="39.7" y2="798.6"/>
<line x1="361.4" y1="-191.4" x2="216.5" y2="839.4"/>
<line x1="361.4" y1="-191.4" x2="397.7" y2="848.9"/>
<line x1="361.4" y1="-191.4" x2="577.8" y2="826.8"/>
<line x1="361.4" y1="-191.4" x2="751.3" y2="773.7"/>
<line x1="361.4" y1="-191.4" x2="913.0" y2="691.3"/>
<line x1="361.4" y1="-191.4" x2="1057.9" y2="582.1"/>
<line x1="361.4" y1="-191.4" x2="1181.6" y2="449.4"/>
<line x1="361.4" y1="-191.4" x2="1280.5" y2="297.3"/>
<line x1="361.4" y1="-191.4" x2="1351.4" y2="130.3"/>
<line x1="361.4" y1="-191.4" x2="1392.2" y2="-46.5"/>
</g>
<polyline points="80.0,98.2 98.7,119.8 117.4,141.5 134.1,162.9 150.3,183.3 161.8,197.7" fill="none" stroke="#fa3c3c" stroke-width="1.75" stroke-linejoin="round"/>
<polyline points="170.1,207.7 180.0,219.1 193.2,234.8 204.7,248.1 214.5,258.9 223.9,268.4 232.2,275.9 239.6,282.7 241.2,284.3" fill="none" stroke="#fa3c3c" stroke-width="1.75" stroke-linejoin="round"/>
<polyline points="251.1,292.7 252.6,293.9 258.1,298.0 262.6,300.4 267.3,301.3 272.4,301.9 277.9,301.6 283.2,300.4 283.3,300.4" fill="none" stroke="#fa3c3c" stroke-width="1.75" stroke-linejoin="round"/>
<polyline points="296.3,299.9 296.5,299.9 304.8,299.9 314.4,300.2 325.0,300.9 335.8,302.2 345.9,303.6 354.6,303.4 357.2,300.8" fill="none" stroke="#fa3c3c" stroke-width="1.75" stroke-linejoin="round"/>
<circle cx="98.7" cy="119.8" r="2.2" fill="#fa3c3c"/>
<circle cx="117.4" cy="141.5" r="2.2" fill="#fa3c3c"/>
<circle cx="134.1" cy="162.9" r="2.2" fill="#fa3c3c"/>
<circle cx="150.3" cy="183.3" r="2.2" fill="#fa3c3c"/>
<text x="165.8" y="207.2" font-size="12.5" fill="#fa3c3c" text-anchor="middle" stroke="#fa3c3c" stroke-width="0.3">4</text>
<circle cx="180.0" cy="219.1" r="2.2" fill="#fa3c3c"/>
<circle cx="193.2" cy="234.8" r="2.2" fill="#fa3c3c"/>
<circle cx="204.7" cy="248.1" r="2.2" fill="#fa3c3c"/>
<circle cx="223.9" cy="268.4" r="2.2" fill="#fa3c3c"/>
<circle cx="232.2" cy="275.9" r="2.2" fill="#fa3c3c"/>
<circle cx="239.6" cy="282.7" r="2.2" fill="#fa3c3c"/>
<text x="245.9" y="293.2" font-size="12.5" fill="#fa3c3c" text-anchor="middle" stroke="#fa3c3c" stroke-width="0.3">5</text>
<circle cx="252.6" cy="293.9" r="2.2" fill="#fa3c3c"/>
<circle cx="258.1" cy="298.0" r="2.2" fill="#fa3c3c"/>
<circle cx="262.6" cy="300.4" r="2.2" fill="#fa3c3c"/>
<circle cx="267.3" cy="301.3" r="2.2" fill="#fa3c3c"/>
<circle cx="272.4" cy="301.9" r="2.2" fill="#fa3c3c"/>
<circle cx="277.9" cy="301.6" r="2.2" fill="#fa3c3c"/>
<circle cx="283.2" cy="300.4" r="2.2" fill="#fa3c3c"/>
<text x="289.8" y="304.8" font-size="12.5" fill="#fa3c3c" text-anchor="middle" stroke="#fa3c3c" stroke-width="0.3">6</text>
<circle cx="296.5" cy="299.9" r="2.2" fill="#fa3c3c"/>
<circle cx="304.8" cy="299.9" r="2.2" fill="#fa3c3c"/>
<circle cx="314.4" cy="300.2" r="2.2" fill="#fa3c3c"/>
<circle cx="325.0" cy="300.9" r="2.2" fill="#fa3c3c"/>
<circle cx="335.8" cy="302.2" r="2.2" fill="#fa3c3c"/>
<circle cx="345.9" cy="303.6" r="2.2" fill="#fa3c3c"/>
<circle cx="354.6" cy="303.4" r="2.2" fill="#fa3c3c"/>
<polyline points="85.0,183.0 100.5,193.7 118.2,205.9 130.3,212.0" fill="none" stroke="#00dc00" stroke-width="1.75" stroke-linejoin="round"/>
<polyline points="141.9,217.8 150.2,221.8 159.4,228.3 166.0,235.2 171.3,240.4 179.5,243.0 190.3,247.2 202.0,253.8 208.1,256.1" fill="none" stroke="#00dc00" stroke-width="1.75" stroke-linejoin="round"/>
<polyline points="220.6,259.3 229.2,260.6 247.9,263.9 267.4,268.4 288.7,273.4 311.1,281.0 331.2,289.3 348.3,296.3 357.2,300.5" fill="none" stroke="#00dc00" stroke-width="1.75" stroke-linejoin="round"/>
<circle cx="100.5" cy="193.7" r="2.2" fill="#fff" stroke="#00dc00" stroke-width="1.35"/>
<circle cx="118.2" cy="205.9" r="2.2" fill="#fff" stroke="#00dc00" stroke-width="1.35"/>
<text x="136.1" y="219.3" font-size="12.5" fill="#00dc00" text-anchor="middle" stroke="#00dc00" stroke-width="0.3">5</text>
<circle cx="150.2" cy="221.8" r="2.2" fill="#fff" stroke="#00dc00" stroke-width="1.35"/>
<circle cx="159.4" cy="228.3" r="2.2" fill="#fff" stroke="#00dc00" stroke-width="1.35"/>
<circle cx="166.0" cy="235.2" r="2.2" fill="#fff" stroke="#00dc00" stroke-width="1.35"/>
<circle cx="171.3" cy="240.4" r="2.2" fill="#fff" stroke="#00dc00" stroke-width="1.35"/>
<circle cx="179.5" cy="243.0" r="2.2" fill="#fff" stroke="#00dc00" stroke-width="1.35"/>
<circle cx="190.3" cy="247.2" r="2.2" fill="#fff" stroke="#00dc00" stroke-width="1.35"/>
<circle cx="202.0" cy="253.8" r="2.2" fill="#fff" stroke="#00dc00" stroke-width="1.35"/>
<text x="214.2" y="262.8" font-size="12.5" fill="#00dc00" text-anchor="middle" stroke="#00dc00" stroke-width="0.3">6</text>
<circle cx="229.2" cy="260.6" r="2.2" fill="#fff" stroke="#00dc00" stroke-width="1.35"/>
<circle cx="247.9" cy="263.9" r="2.2" fill="#fff" stroke="#00dc00" stroke-width="1.35"/>
<circle cx="267.4" cy="268.4" r="2.2" fill="#fff" stroke="#00dc00" stroke-width="1.35"/>
<circle cx="288.7" cy="273.4" r="2.2" fill="#fff" stroke="#00dc00" stroke-width="1.35"/>
<circle cx="311.1" cy="281.0" r="2.2" fill="#fff" stroke="#00dc00" stroke-width="1.35"/>
<circle cx="331.2" cy="289.3" r="2.2" fill="#fff" stroke="#00dc00" stroke-width="1.35"/>
<circle cx="348.3" cy="296.3" r="2.2" fill="#fff" stroke="#00dc00" stroke-width="1.35"/>
<polyline points="80.0,80.8 98.7,86.9 117.9,93.2 143.5,105.9 167.9,122.8 192.8,144.4 212.4,164.2" fill="none" stroke="#1e3cff" stroke-width="1.75" stroke-linejoin="round"/>
<polyline points="221.4,173.5 239.4,192.7 262.6,216.0 285.2,235.7 305.9,253.4 324.7,268.0 338.8,281.3 350.7,291.8 357.2,300.2" fill="none" stroke="#1e3cff" stroke-width="1.75" stroke-linejoin="round"/>
<polygon points="98.7,84.2 101.3,88.9 96.1,88.9" fill="#fff" stroke="#1e3cff" stroke-width="1.25" stroke-linejoin="round"/>
<polygon points="117.9,90.5 120.5,95.2 115.3,95.2" fill="#fff" stroke="#1e3cff" stroke-width="1.25" stroke-linejoin="round"/>
<polygon points="143.5,103.2 146.1,107.9 140.9,107.9" fill="#fff" stroke="#1e3cff" stroke-width="1.25" stroke-linejoin="round"/>
<polygon points="167.9,120.1 170.5,124.8 165.3,124.8" fill="#fff" stroke="#1e3cff" stroke-width="1.25" stroke-linejoin="round"/>
<polygon points="192.8,141.7 195.4,146.4 190.2,146.4" fill="#fff" stroke="#1e3cff" stroke-width="1.25" stroke-linejoin="round"/>
<text x="217.0" y="173.2" font-size="12.5" fill="#1e3cff" text-anchor="middle" stroke="#1e3cff" stroke-width="0.3">6</text>
<polygon points="239.4,190.0 242.0,194.7 236.8,194.7" fill="#fff" stroke="#1e3cff" stroke-width="1.25" stroke-linejoin="round"/>
<polygon points="262.6,213.3 265.2,218.0 260.0,218.0" fill="#fff" stroke="#1e3cff" stroke-width="1.25" stroke-linejoin="round"/>
<polygon points="285.2,233.0 287.8,237.7 282.6,237.7" fill="#fff" stroke="#1e3cff" stroke-width="1.25" stroke-linejoin="round"/>
<polygon points="305.9,250.7 308.5,255.4 303.3,255.4" fill="#fff" stroke="#1e3cff" stroke-width="1.25" stroke-linejoin="round"/>
<polygon points="324.7,265.3 327.3,270.0 322.1,270.0" fill="#fff" stroke="#1e3cff" stroke-width="1.25" stroke-linejoin="round"/>
<polygon points="338.8,278.6 341.4,283.3 336.2,283.3" fill="#fff" stroke="#1e3cff" stroke-width="1.25" stroke-linejoin="round"/>
<polygon points="350.7,289.1 353.3,293.8 348.1,293.8" fill="#fff" stroke="#1e3cff" stroke-width="1.25" stroke-linejoin="round"/>
<text x="357.4" y="307.6" font-size="12.5" fill="#000" stroke="#000" stroke-width="0.45">7</text>
</g>
<rect x="98.2" y="50" width="526.7" height="1.25" fill="#000"/>
<rect x="623.7" y="50" width="1.2" height="525.8" fill="#000"/>
<rect x="98.2" y="574.7" width="526.7" height="1.1" fill="#2a2a2a"/>
<rect x="98.2" y="50" width="2" height="525.8" fill="#000"/>
<text x="5.6" y="589.8" font-size="11.3" fill="#000" textLength="27.6" lengthAdjust="spacingAndGlyphs" stroke="#000" stroke-width="0.25">[hPa]</text>
<clipPath id="cc"><rect x="31.9" y="598.0" width="675.6" height="262.6"/></clipPath>
<g clip-path="url(#cc)">
<polyline points="32.9,634.4 44.8,631.2 56.6,631.0 68.4,630.7 80.3,631.2 92.2,631.0 104.0,633.4 115.8,636.2 123.5,638.9" fill="none" stroke="#fa3c3c" stroke-width="1.1" stroke-linejoin="round"/>
<polyline points="131.8,642.4 139.5,646.1 151.4,657.3 163.2,665.3 175.1,669.0 186.9,679.5 198.8,690.0 210.7,692.4 218.5,696.4" fill="none" stroke="#fa3c3c" stroke-width="1.1" stroke-linejoin="round"/>
<polyline points="227.0,699.0 234.3,699.9 246.2,702.4 258.1,701.4 269.9,701.9 281.8,707.6 293.6,709.1 305.4,712.4 312.8,712.1" fill="none" stroke="#fa3c3c" stroke-width="1.1" stroke-linejoin="round"/>
<polyline points="321.8,712.2 329.1,712.9 341.0,712.6 352.8,712.9 364.7,713.9 376.5,714.4 388.4,715.6 400.2,717.3 407.6,718.0" fill="none" stroke="#fa3c3c" stroke-width="1.1" stroke-linejoin="round"/>
<polyline points="416.6,718.6 423.9,719.1 435.8,721.1 447.6,723.3 459.5,723.8 471.3,726.1 483.2,728.8 495.0,731.8 502.4,732.7" fill="none" stroke="#fa3c3c" stroke-width="1.1" stroke-linejoin="round"/>
<polyline points="511.3,734.1 518.8,735.5 530.6,737.5 542.5,741.0 554.3,744.0 566.1,747.5 578.0,751.0 589.8,752.7 597.2,753.5" fill="none" stroke="#fa3c3c" stroke-width="1.1" stroke-linejoin="round"/>
<polyline points="606.1,753.0 613.5,751.5 625.4,751.0 637.2,755.4 649.1,753.9 660.9,752.4 672.8,749.5 684.6,744.0 692.0,744.8" fill="none" stroke="#fa3c3c" stroke-width="1.1" stroke-linejoin="round"/>
<circle cx="32.9" cy="634.4" r="2.9" fill="#fa3c3c"/>
<circle cx="44.8" cy="631.2" r="2.9" fill="#fa3c3c"/>
<circle cx="56.6" cy="631.0" r="2.9" fill="#fa3c3c"/>
<circle cx="68.4" cy="630.7" r="2.9" fill="#fa3c3c"/>
<circle cx="80.3" cy="631.2" r="2.9" fill="#fa3c3c"/>
<circle cx="92.2" cy="631.0" r="2.9" fill="#fa3c3c"/>
<circle cx="104.0" cy="633.4" r="2.9" fill="#fa3c3c"/>
<circle cx="115.8" cy="636.2" r="2.9" fill="#fa3c3c"/>
<circle cx="139.5" cy="646.1" r="2.9" fill="#fa3c3c"/>
<circle cx="151.4" cy="657.3" r="2.9" fill="#fa3c3c"/>
<circle cx="163.2" cy="665.3" r="2.9" fill="#fa3c3c"/>
<circle cx="175.1" cy="669.0" r="2.9" fill="#fa3c3c"/>
<circle cx="186.9" cy="679.5" r="2.9" fill="#fa3c3c"/>
<circle cx="198.8" cy="690.0" r="2.9" fill="#fa3c3c"/>
<circle cx="210.7" cy="692.4" r="2.9" fill="#fa3c3c"/>
<circle cx="234.3" cy="699.9" r="2.9" fill="#fa3c3c"/>
<circle cx="246.2" cy="702.4" r="2.9" fill="#fa3c3c"/>
<circle cx="258.1" cy="701.4" r="2.9" fill="#fa3c3c"/>
<circle cx="269.9" cy="701.9" r="2.9" fill="#fa3c3c"/>
<circle cx="281.8" cy="707.6" r="2.9" fill="#fa3c3c"/>
<circle cx="293.6" cy="709.1" r="2.9" fill="#fa3c3c"/>
<circle cx="305.4" cy="712.4" r="2.9" fill="#fa3c3c"/>
<circle cx="329.1" cy="712.9" r="2.9" fill="#fa3c3c"/>
<circle cx="341.0" cy="712.6" r="2.9" fill="#fa3c3c"/>
<circle cx="352.8" cy="712.9" r="2.9" fill="#fa3c3c"/>
<circle cx="364.7" cy="713.9" r="2.9" fill="#fa3c3c"/>
<circle cx="376.5" cy="714.4" r="2.9" fill="#fa3c3c"/>
<circle cx="388.4" cy="715.6" r="2.9" fill="#fa3c3c"/>
<circle cx="400.2" cy="717.3" r="2.9" fill="#fa3c3c"/>
<circle cx="423.9" cy="719.1" r="2.9" fill="#fa3c3c"/>
<circle cx="435.8" cy="721.1" r="2.9" fill="#fa3c3c"/>
<circle cx="447.6" cy="723.3" r="2.9" fill="#fa3c3c"/>
<circle cx="459.5" cy="723.8" r="2.9" fill="#fa3c3c"/>
<circle cx="471.3" cy="726.1" r="2.9" fill="#fa3c3c"/>
<circle cx="483.2" cy="728.8" r="2.9" fill="#fa3c3c"/>
<circle cx="495.0" cy="731.8" r="2.9" fill="#fa3c3c"/>
<circle cx="518.8" cy="735.5" r="2.9" fill="#fa3c3c"/>
<circle cx="530.6" cy="737.5" r="2.9" fill="#fa3c3c"/>
<circle cx="542.5" cy="741.0" r="2.9" fill="#fa3c3c"/>
<circle cx="554.3" cy="744.0" r="2.9" fill="#fa3c3c"/>
<circle cx="566.1" cy="747.5" r="2.9" fill="#fa3c3c"/>
<circle cx="578.0" cy="751.0" r="2.9" fill="#fa3c3c"/>
<circle cx="589.8" cy="752.7" r="2.9" fill="#fa3c3c"/>
<circle cx="613.5" cy="751.5" r="2.9" fill="#fa3c3c"/>
<circle cx="625.4" cy="751.0" r="2.9" fill="#fa3c3c"/>
<circle cx="637.2" cy="755.4" r="2.9" fill="#fa3c3c"/>
<circle cx="649.1" cy="753.9" r="2.9" fill="#fa3c3c"/>
<circle cx="660.9" cy="752.4" r="2.9" fill="#fa3c3c"/>
<circle cx="672.8" cy="749.5" r="2.9" fill="#fa3c3c"/>
<circle cx="684.6" cy="744.0" r="2.9" fill="#fa3c3c"/>
<polyline points="32.9,729.5 44.8,678.0 56.6,678.5 68.4,689.7 80.3,694.7 92.2,691.0 104.0,679.0 115.8,673.3 124.1,679.5" fill="none" stroke="#00dc00" stroke-width="1.1" stroke-linejoin="round"/>
<polyline points="132.0,683.6 139.5,686.0 151.4,686.7 163.2,690.0 175.1,689.5 186.9,680.5 198.8,678.8 210.7,674.0 218.0,673.2" fill="none" stroke="#00dc00" stroke-width="1.1" stroke-linejoin="round"/>
<polyline points="226.9,671.9 234.3,670.3 246.2,670.5 258.1,670.3 269.9,669.5 281.8,671.0 293.6,670.8 305.4,671.3 312.8,671.1" fill="none" stroke="#00dc00" stroke-width="1.1" stroke-linejoin="round"/>
<polyline points="321.6,669.9 329.1,667.8 341.0,658.6 352.8,652.6 364.7,645.1 376.5,644.4 388.4,647.4 400.2,652.4 407.7,653.9" fill="none" stroke="#00dc00" stroke-width="1.1" stroke-linejoin="round"/>
<polyline points="416.6,654.8 423.9,654.6 435.8,653.1 447.6,650.1 459.5,649.6 471.3,647.6 483.2,646.1 495.0,645.4 503.6,653.5" fill="none" stroke="#00dc00" stroke-width="1.1" stroke-linejoin="round"/>
<polyline points="511.2,658.0 518.8,660.6 530.6,667.6 542.5,674.3 554.3,681.5 566.1,686.7 578.0,686.2 589.8,687.0 597.3,688.7" fill="none" stroke="#00dc00" stroke-width="1.1" stroke-linejoin="round"/>
<polyline points="605.8,691.6 613.5,695.2 625.4,699.2 637.2,706.6 649.1,712.9 660.9,714.4 672.8,716.1 684.6,713.9 692.0,713.2" fill="none" stroke="#00dc00" stroke-width="1.1" stroke-linejoin="round"/>
<circle cx="32.9" cy="729.5" r="2.85" fill="#fff" stroke="#00dc00" stroke-width="1.15"/>
<circle cx="44.8" cy="678.0" r="2.85" fill="#fff" stroke="#00dc00" stroke-width="1.15"/>
<circle cx="56.6" cy="678.5" r="2.85" fill="#fff" stroke="#00dc00" stroke-width="1.15"/>
<circle cx="68.4" cy="689.7" r="2.85" fill="#fff" stroke="#00dc00" stroke-width="1.15"/>
<circle cx="80.3" cy="694.7" r="2.85" fill="#fff" stroke="#00dc00" stroke-width="1.15"/>
<circle cx="92.2" cy="691.0" r="2.85" fill="#fff" stroke="#00dc00" stroke-width="1.15"/>
<circle cx="104.0" cy="679.0" r="2.85" fill="#fff" stroke="#00dc00" stroke-width="1.15"/>
<circle cx="115.8" cy="673.3" r="2.85" fill="#fff" stroke="#00dc00" stroke-width="1.15"/>
<circle cx="139.5" cy="686.0" r="2.85" fill="#fff" stroke="#00dc00" stroke-width="1.15"/>
<circle cx="151.4" cy="686.7" r="2.85" fill="#fff" stroke="#00dc00" stroke-width="1.15"/>
<circle cx="163.2" cy="690.0" r="2.85" fill="#fff" stroke="#00dc00" stroke-width="1.15"/>
<circle cx="175.1" cy="689.5" r="2.85" fill="#fff" stroke="#00dc00" stroke-width="1.15"/>
<circle cx="186.9" cy="680.5" r="2.85" fill="#fff" stroke="#00dc00" stroke-width="1.15"/>
<circle cx="198.8" cy="678.8" r="2.85" fill="#fff" stroke="#00dc00" stroke-width="1.15"/>
<circle cx="210.7" cy="674.0" r="2.85" fill="#fff" stroke="#00dc00" stroke-width="1.15"/>
<circle cx="234.3" cy="670.3" r="2.85" fill="#fff" stroke="#00dc00" stroke-width="1.15"/>
<circle cx="246.2" cy="670.5" r="2.85" fill="#fff" stroke="#00dc00" stroke-width="1.15"/>
<circle cx="258.1" cy="670.3" r="2.85" fill="#fff" stroke="#00dc00" stroke-width="1.15"/>
<circle cx="269.9" cy="669.5" r="2.85" fill="#fff" stroke="#00dc00" stroke-width="1.15"/>
<circle cx="281.8" cy="671.0" r="2.85" fill="#fff" stroke="#00dc00" stroke-width="1.15"/>
<circle cx="293.6" cy="670.8" r="2.85" fill="#fff" stroke="#00dc00" stroke-width="1.15"/>
<circle cx="305.4" cy="671.3" r="2.85" fill="#fff" stroke="#00dc00" stroke-width="1.15"/>
<circle cx="329.1" cy="667.8" r="2.85" fill="#fff" stroke="#00dc00" stroke-width="1.15"/>
<circle cx="341.0" cy="658.6" r="2.85" fill="#fff" stroke="#00dc00" stroke-width="1.15"/>
<circle cx="352.8" cy="652.6" r="2.85" fill="#fff" stroke="#00dc00" stroke-width="1.15"/>
<circle cx="364.7" cy="645.1" r="2.85" fill="#fff" stroke="#00dc00" stroke-width="1.15"/>
<circle cx="376.5" cy="644.4" r="2.85" fill="#fff" stroke="#00dc00" stroke-width="1.15"/>
<circle cx="388.4" cy="647.4" r="2.85" fill="#fff" stroke="#00dc00" stroke-width="1.15"/>
<circle cx="400.2" cy="652.4" r="2.85" fill="#fff" stroke="#00dc00" stroke-width="1.15"/>
<circle cx="423.9" cy="654.6" r="2.85" fill="#fff" stroke="#00dc00" stroke-width="1.15"/>
<circle cx="435.8" cy="653.1" r="2.85" fill="#fff" stroke="#00dc00" stroke-width="1.15"/>
<circle cx="447.6" cy="650.1" r="2.85" fill="#fff" stroke="#00dc00" stroke-width="1.15"/>
<circle cx="459.5" cy="649.6" r="2.85" fill="#fff" stroke="#00dc00" stroke-width="1.15"/>
<circle cx="471.3" cy="647.6" r="2.85" fill="#fff" stroke="#00dc00" stroke-width="1.15"/>
<circle cx="483.2" cy="646.1" r="2.85" fill="#fff" stroke="#00dc00" stroke-width="1.15"/>
<circle cx="495.0" cy="645.4" r="2.85" fill="#fff" stroke="#00dc00" stroke-width="1.15"/>
<circle cx="518.8" cy="660.6" r="2.85" fill="#fff" stroke="#00dc00" stroke-width="1.15"/>
<circle cx="530.6" cy="667.6" r="2.85" fill="#fff" stroke="#00dc00" stroke-width="1.15"/>
<circle cx="542.5" cy="674.3" r="2.85" fill="#fff" stroke="#00dc00" stroke-width="1.15"/>
<circle cx="554.3" cy="681.5" r="2.85" fill="#fff" stroke="#00dc00" stroke-width="1.15"/>
<circle cx="566.1" cy="686.7" r="2.85" fill="#fff" stroke="#00dc00" stroke-width="1.15"/>
<circle cx="578.0" cy="686.2" r="2.85" fill="#fff" stroke="#00dc00" stroke-width="1.15"/>
<circle cx="589.8" cy="687.0" r="2.85" fill="#fff" stroke="#00dc00" stroke-width="1.15"/>
<circle cx="613.5" cy="695.2" r="2.85" fill="#fff" stroke="#00dc00" stroke-width="1.15"/>
<circle cx="625.4" cy="699.2" r="2.85" fill="#fff" stroke="#00dc00" stroke-width="1.15"/>
<circle cx="637.2" cy="706.6" r="2.85" fill="#fff" stroke="#00dc00" stroke-width="1.15"/>
<circle cx="649.1" cy="712.9" r="2.85" fill="#fff" stroke="#00dc00" stroke-width="1.15"/>
<circle cx="660.9" cy="714.4" r="2.85" fill="#fff" stroke="#00dc00" stroke-width="1.15"/>
<circle cx="672.8" cy="716.1" r="2.85" fill="#fff" stroke="#00dc00" stroke-width="1.15"/>
<circle cx="684.6" cy="713.9" r="2.85" fill="#fff" stroke="#00dc00" stroke-width="1.15"/>
<polyline points="32.9,804.2 44.8,810.5 56.6,809.0 68.4,810.2 80.3,813.7 92.2,814.7 104.0,830.4 115.8,829.1 123.3,827.6" fill="none" stroke="#1e3cff" stroke-width="1.1" stroke-linejoin="round"/>
<polyline points="132.2,826.2 139.5,825.4 151.4,823.4 163.2,821.7 175.1,819.9 186.9,814.2 198.8,812.9 210.7,808.5 218.0,809.2" fill="none" stroke="#1e3cff" stroke-width="1.1" stroke-linejoin="round"/>
<polyline points="226.3,807.4 234.3,802.5 246.2,804.5 258.1,794.3 269.9,780.8 281.8,775.1 293.6,766.9 305.4,763.9 312.8,763.9" fill="none" stroke="#1e3cff" stroke-width="1.1" stroke-linejoin="round"/>
<polyline points="321.0,761.3 329.1,755.4 341.0,753.7 352.8,754.9 364.7,756.2 376.5,756.7 388.4,753.4 400.2,749.7 407.6,749.6" fill="none" stroke="#1e3cff" stroke-width="1.1" stroke-linejoin="round"/>
<polyline points="416.5,748.5 423.9,747.0 435.8,747.2 447.6,741.0 459.5,736.0 471.3,751.0 483.2,753.4 495.0,748.5 503.5,741.4" fill="none" stroke="#1e3cff" stroke-width="1.1" stroke-linejoin="round"/>
<polyline points="508.7,734.4 518.8,711.4 530.6,698.7 542.5,679.0 554.3,670.5 566.1,662.8 578.0,660.1 589.8,662.1 597.4,664.3" fill="none" stroke="#1e3cff" stroke-width="1.1" stroke-linejoin="round"/>
<polyline points="605.9,667.2 613.5,670.0 625.4,670.8 637.2,669.8 649.1,666.8 660.9,666.3 672.8,665.8 684.6,670.5 692.9,677.0" fill="none" stroke="#1e3cff" stroke-width="1.1" stroke-linejoin="round"/>
<polygon points="32.9,800.9 35.9,806.5 29.9,806.5" fill="#fff" stroke="#1e3cff" stroke-width="1" stroke-linejoin="round"/>
<polygon points="44.8,807.2 47.7,812.8 41.8,812.8" fill="#fff" stroke="#1e3cff" stroke-width="1" stroke-linejoin="round"/>
<polygon points="56.6,805.7 59.6,811.3 53.6,811.3" fill="#fff" stroke="#1e3cff" stroke-width="1" stroke-linejoin="round"/>
<polygon points="68.4,806.9 71.4,812.5 65.5,812.5" fill="#fff" stroke="#1e3cff" stroke-width="1" stroke-linejoin="round"/>
<polygon points="80.3,810.4 83.3,816.0 77.3,816.0" fill="#fff" stroke="#1e3cff" stroke-width="1" stroke-linejoin="round"/>
<polygon points="92.2,811.4 95.1,817.0 89.2,817.0" fill="#fff" stroke="#1e3cff" stroke-width="1" stroke-linejoin="round"/>
<polygon points="104.0,827.1 107.0,832.7 101.0,832.7" fill="#fff" stroke="#1e3cff" stroke-width="1" stroke-linejoin="round"/>
<polygon points="115.8,825.8 118.8,831.4 112.9,831.4" fill="#fff" stroke="#1e3cff" stroke-width="1" stroke-linejoin="round"/>
<polygon points="139.5,822.1 142.5,827.7 136.6,827.7" fill="#fff" stroke="#1e3cff" stroke-width="1" stroke-linejoin="round"/>
<polygon points="151.4,820.1 154.4,825.7 148.4,825.7" fill="#fff" stroke="#1e3cff" stroke-width="1" stroke-linejoin="round"/>
<polygon points="163.2,818.4 166.2,824.0 160.3,824.0" fill="#fff" stroke="#1e3cff" stroke-width="1" stroke-linejoin="round"/>
<polygon points="175.1,816.6 178.1,822.2 172.1,822.2" fill="#fff" stroke="#1e3cff" stroke-width="1" stroke-linejoin="round"/>
<polygon points="186.9,810.9 189.9,816.5 184.0,816.5" fill="#fff" stroke="#1e3cff" stroke-width="1" stroke-linejoin="round"/>
<polygon points="198.8,809.6 201.8,815.3 195.8,815.3" fill="#fff" stroke="#1e3cff" stroke-width="1" stroke-linejoin="round"/>
<polygon points="210.7,805.2 213.6,810.8 207.7,810.8" fill="#fff" stroke="#1e3cff" stroke-width="1" stroke-linejoin="round"/>
<polygon points="234.3,799.2 237.3,804.8 231.4,804.8" fill="#fff" stroke="#1e3cff" stroke-width="1" stroke-linejoin="round"/>
<polygon points="246.2,801.2 249.2,806.8 243.2,806.8" fill="#fff" stroke="#1e3cff" stroke-width="1" stroke-linejoin="round"/>
<polygon points="258.1,791.0 261.0,796.6 255.1,796.6" fill="#fff" stroke="#1e3cff" stroke-width="1" stroke-linejoin="round"/>
<polygon points="269.9,777.5 272.9,783.1 266.9,783.1" fill="#fff" stroke="#1e3cff" stroke-width="1" stroke-linejoin="round"/>
<polygon points="281.8,771.8 284.7,777.4 278.8,777.4" fill="#fff" stroke="#1e3cff" stroke-width="1" stroke-linejoin="round"/>
<polygon points="293.6,763.6 296.6,769.2 290.6,769.2" fill="#fff" stroke="#1e3cff" stroke-width="1" stroke-linejoin="round"/>
<polygon points="305.4,760.6 308.4,766.2 302.5,766.2" fill="#fff" stroke="#1e3cff" stroke-width="1" stroke-linejoin="round"/>
<polygon points="329.1,752.1 332.1,757.7 326.2,757.7" fill="#fff" stroke="#1e3cff" stroke-width="1" stroke-linejoin="round"/>
<polygon points="341.0,750.4 344.0,756.0 338.0,756.0" fill="#fff" stroke="#1e3cff" stroke-width="1" stroke-linejoin="round"/>
<polygon points="352.8,751.6 355.8,757.2 349.9,757.2" fill="#fff" stroke="#1e3cff" stroke-width="1" stroke-linejoin="round"/>
<polygon points="364.7,752.9 367.7,758.5 361.7,758.5" fill="#fff" stroke="#1e3cff" stroke-width="1" stroke-linejoin="round"/>
<polygon points="376.5,753.4 379.5,759.0 373.6,759.0" fill="#fff" stroke="#1e3cff" stroke-width="1" stroke-linejoin="round"/>
<polygon points="388.4,750.1 391.4,755.8 385.4,755.8" fill="#fff" stroke="#1e3cff" stroke-width="1" stroke-linejoin="round"/>
<polygon points="400.2,746.4 403.2,752.0 397.3,752.0" fill="#fff" stroke="#1e3cff" stroke-width="1" stroke-linejoin="round"/>
<polygon points="423.9,743.7 426.9,749.3 421.0,749.3" fill="#fff" stroke="#1e3cff" stroke-width="1" stroke-linejoin="round"/>
<polygon points="435.8,743.9 438.8,749.5 432.8,749.5" fill="#fff" stroke="#1e3cff" stroke-width="1" stroke-linejoin="round"/>
<polygon points="447.6,737.7 450.6,743.3 444.7,743.3" fill="#fff" stroke="#1e3cff" stroke-width="1" stroke-linejoin="round"/>
<polygon points="459.5,732.7 462.5,738.3 456.5,738.3" fill="#fff" stroke="#1e3cff" stroke-width="1" stroke-linejoin="round"/>
<polygon points="471.3,747.7 474.3,753.3 468.4,753.3" fill="#fff" stroke="#1e3cff" stroke-width="1" stroke-linejoin="round"/>
<polygon points="483.2,750.1 486.2,755.8 480.2,755.8" fill="#fff" stroke="#1e3cff" stroke-width="1" stroke-linejoin="round"/>
<polygon points="495.0,745.2 498.0,750.8 492.1,750.8" fill="#fff" stroke="#1e3cff" stroke-width="1" stroke-linejoin="round"/>
<polygon points="518.8,708.1 521.7,713.7 515.8,713.7" fill="#fff" stroke="#1e3cff" stroke-width="1" stroke-linejoin="round"/>
<polygon points="530.6,695.4 533.6,701.0 527.6,701.0" fill="#fff" stroke="#1e3cff" stroke-width="1" stroke-linejoin="round"/>
<polygon points="542.5,675.7 545.4,681.3 539.5,681.3" fill="#fff" stroke="#1e3cff" stroke-width="1" stroke-linejoin="round"/>
<polygon points="554.3,667.2 557.3,672.8 551.3,672.8" fill="#fff" stroke="#1e3cff" stroke-width="1" stroke-linejoin="round"/>
<polygon points="566.1,659.5 569.1,665.1 563.2,665.1" fill="#fff" stroke="#1e3cff" stroke-width="1" stroke-linejoin="round"/>
<polygon points="578.0,656.8 581.0,662.4 575.0,662.4" fill="#fff" stroke="#1e3cff" stroke-width="1" stroke-linejoin="round"/>
<polygon points="589.8,658.8 592.8,664.4 586.9,664.4" fill="#fff" stroke="#1e3cff" stroke-width="1" stroke-linejoin="round"/>
<polygon points="613.5,666.7 616.5,672.4 610.6,672.4" fill="#fff" stroke="#1e3cff" stroke-width="1" stroke-linejoin="round"/>
<polygon points="625.4,667.5 628.4,673.1 622.4,673.1" fill="#fff" stroke="#1e3cff" stroke-width="1" stroke-linejoin="round"/>
<polygon points="637.2,666.5 640.2,672.1 634.3,672.1" fill="#fff" stroke="#1e3cff" stroke-width="1" stroke-linejoin="round"/>
<polygon points="649.1,663.5 652.1,669.1 646.1,669.1" fill="#fff" stroke="#1e3cff" stroke-width="1" stroke-linejoin="round"/>
<polygon points="660.9,663.0 663.9,668.6 658.0,668.6" fill="#fff" stroke="#1e3cff" stroke-width="1" stroke-linejoin="round"/>
<polygon points="672.8,662.5 675.8,668.1 669.8,668.1" fill="#fff" stroke="#1e3cff" stroke-width="1" stroke-linejoin="round"/>
<polygon points="684.6,667.2 687.6,672.8 681.7,672.8" fill="#fff" stroke="#1e3cff" stroke-width="1" stroke-linejoin="round"/>
</g>
<line x1="32.9" y1="614" x2="696.5" y2="614" stroke="#6a6a6a" stroke-width="1.25" stroke-dasharray="2.5 1.5"/>
<line x1="28.7" y1="614" x2="32.9" y2="614" stroke="#000" stroke-width="1.1"/>
<text x="26.2" y="618.5" font-size="11.3" fill="#000" text-anchor="end" textLength="18.8" lengthAdjust="spacingAndGlyphs" stroke="#000" stroke-width="0.25">300</text>
<line x1="32.9" y1="630.5" x2="696.5" y2="630.5" stroke="#505050" stroke-width="1" stroke-dasharray="2.5 1.5"/>
<line x1="28.7" y1="630.5" x2="32.9" y2="630.5" stroke="#000" stroke-width="1.1"/>
<text x="26.2" y="634.9" font-size="11.3" fill="#000" text-anchor="end" textLength="18.8" lengthAdjust="spacingAndGlyphs" stroke="#000" stroke-width="0.25">350</text>
<line x1="32.9" y1="647" x2="696.5" y2="647" stroke="#6a6a6a" stroke-width="1.25" stroke-dasharray="2.5 1.5"/>
<line x1="28.7" y1="647" x2="32.9" y2="647" stroke="#000" stroke-width="1.1"/>
<text x="26.2" y="651.4" font-size="11.3" fill="#000" text-anchor="end" textLength="18.8" lengthAdjust="spacingAndGlyphs" stroke="#000" stroke-width="0.25">400</text>
<line x1="32.9" y1="663.5" x2="696.5" y2="663.5" stroke="#505050" stroke-width="1" stroke-dasharray="2.5 1.5"/>
<line x1="28.7" y1="663.5" x2="32.9" y2="663.5" stroke="#000" stroke-width="1.1"/>
<text x="26.2" y="667.8" font-size="11.3" fill="#000" text-anchor="end" textLength="18.8" lengthAdjust="spacingAndGlyphs" stroke="#000" stroke-width="0.25">450</text>
<line x1="32.9" y1="680" x2="696.5" y2="680" stroke="#6a6a6a" stroke-width="1.25" stroke-dasharray="2.5 1.5"/>
<line x1="28.7" y1="680" x2="32.9" y2="680" stroke="#000" stroke-width="1.1"/>
<text x="26.2" y="684.3" font-size="11.3" fill="#000" text-anchor="end" textLength="18.8" lengthAdjust="spacingAndGlyphs" stroke="#000" stroke-width="0.25">500</text>
<line x1="32.9" y1="696.5" x2="696.5" y2="696.5" stroke="#505050" stroke-width="1" stroke-dasharray="2.5 1.5"/>
<line x1="28.7" y1="696.5" x2="32.9" y2="696.5" stroke="#000" stroke-width="1.1"/>
<text x="26.2" y="700.7" font-size="11.3" fill="#000" text-anchor="end" textLength="18.8" lengthAdjust="spacingAndGlyphs" stroke="#000" stroke-width="0.25">550</text>
<line x1="32.9" y1="712.5" x2="696.5" y2="712.5" stroke="#505050" stroke-width="1" stroke-dasharray="2.5 1.5"/>
<line x1="28.7" y1="712.5" x2="32.9" y2="712.5" stroke="#000" stroke-width="1.1"/>
<text x="26.2" y="717.2" font-size="11.3" fill="#000" text-anchor="end" textLength="18.8" lengthAdjust="spacingAndGlyphs" stroke="#000" stroke-width="0.25">600</text>
<line x1="32.9" y1="729.5" x2="696.5" y2="729.5" stroke="#505050" stroke-width="1" stroke-dasharray="2.5 1.5"/>
<line x1="28.7" y1="729.5" x2="32.9" y2="729.5" stroke="#000" stroke-width="1.1"/>
<text x="26.2" y="733.6" font-size="11.3" fill="#000" text-anchor="end" textLength="18.8" lengthAdjust="spacingAndGlyphs" stroke="#000" stroke-width="0.25">650</text>
<line x1="32.9" y1="745.5" x2="696.5" y2="745.5" stroke="#505050" stroke-width="1" stroke-dasharray="2.5 1.5"/>
<line x1="28.7" y1="745.5" x2="32.9" y2="745.5" stroke="#000" stroke-width="1.1"/>
<text x="26.2" y="750.1" font-size="11.3" fill="#000" text-anchor="end" textLength="18.8" lengthAdjust="spacingAndGlyphs" stroke="#000" stroke-width="0.25">700</text>
<line x1="32.9" y1="762.5" x2="696.5" y2="762.5" stroke="#505050" stroke-width="1" stroke-dasharray="2.5 1.5"/>
<line x1="28.7" y1="762.5" x2="32.9" y2="762.5" stroke="#000" stroke-width="1.1"/>
<text x="26.2" y="766.5" font-size="11.3" fill="#000" text-anchor="end" textLength="18.8" lengthAdjust="spacingAndGlyphs" stroke="#000" stroke-width="0.25">750</text>
<line x1="32.9" y1="778.5" x2="696.5" y2="778.5" stroke="#505050" stroke-width="1" stroke-dasharray="2.5 1.5"/>
<line x1="28.7" y1="778.5" x2="32.9" y2="778.5" stroke="#000" stroke-width="1.1"/>
<text x="26.2" y="783.0" font-size="11.3" fill="#000" text-anchor="end" textLength="18.8" lengthAdjust="spacingAndGlyphs" stroke="#000" stroke-width="0.25">800</text>
<line x1="32.9" y1="795.5" x2="696.5" y2="795.5" stroke="#505050" stroke-width="1" stroke-dasharray="2.5 1.5"/>
<line x1="28.7" y1="795.5" x2="32.9" y2="795.5" stroke="#000" stroke-width="1.1"/>
<text x="26.2" y="799.4" font-size="11.3" fill="#000" text-anchor="end" textLength="18.8" lengthAdjust="spacingAndGlyphs" stroke="#000" stroke-width="0.25">850</text>
<line x1="32.9" y1="811.5" x2="696.5" y2="811.5" stroke="#505050" stroke-width="1" stroke-dasharray="2.5 1.5"/>
<line x1="28.7" y1="811.5" x2="32.9" y2="811.5" stroke="#000" stroke-width="1.1"/>
<text x="26.2" y="815.9" font-size="11.3" fill="#000" text-anchor="end" textLength="18.8" lengthAdjust="spacingAndGlyphs" stroke="#000" stroke-width="0.25">900</text>
<line x1="32.9" y1="828.5" x2="696.5" y2="828.5" stroke="#505050" stroke-width="1" stroke-dasharray="2.5 1.5"/>
<line x1="28.7" y1="828.5" x2="32.9" y2="828.5" stroke="#000" stroke-width="1.1"/>
<text x="26.2" y="832.3" font-size="11.3" fill="#000" text-anchor="end" textLength="18.8" lengthAdjust="spacingAndGlyphs" stroke="#000" stroke-width="0.25">950</text>
<line x1="32.9" y1="844.5" x2="696.5" y2="844.5" stroke="#505050" stroke-width="1" stroke-dasharray="2.5 1.5"/>
<line x1="28.7" y1="844.5" x2="32.9" y2="844.5" stroke="#000" stroke-width="1.1"/>
<text x="26.2" y="848.8" font-size="11.3" fill="#000" text-anchor="end" textLength="24.8" lengthAdjust="spacingAndGlyphs" stroke="#000" stroke-width="0.25">1000</text>
<line x1="127.5" y1="598.0" x2="127.5" y2="860.6" stroke="#505050" stroke-width="1" stroke-dasharray="2.5 1.5"/>
<line x1="222.5" y1="598.0" x2="222.5" y2="860.6" stroke="#505050" stroke-width="1" stroke-dasharray="2.5 1.5"/>
<line x1="317.5" y1="598.0" x2="317.5" y2="860.6" stroke="#505050" stroke-width="1" stroke-dasharray="2.5 1.5"/>
<line x1="412.5" y1="598.0" x2="412.5" y2="860.6" stroke="#505050" stroke-width="1" stroke-dasharray="2.5 1.5"/>
<line x1="506.5" y1="598.0" x2="506.5" y2="860.6" stroke="#505050" stroke-width="1" stroke-dasharray="2.5 1.5"/>
<line x1="601.5" y1="598.0" x2="601.5" y2="860.6" stroke="#505050" stroke-width="1" stroke-dasharray="2.5 1.5"/>
<rect x="32.2" y="596.9" width="1.7" height="264.7" fill="#000"/>
<rect x="695.3" y="596.9" width="2.3" height="262.5" fill="#000"/>
<rect x="695.8" y="859" width="0.9" height="4.2" fill="#000"/>
<rect x="32.2" y="596.9" width="665.4" height="1.9" fill="#000"/>
<rect x="32.2" y="859.9" width="663.8" height="1.7" fill="#000"/>
<text x="127.7" y="644.7" font-size="12.3" fill="#fa3c3c" text-anchor="middle" stroke="#fa3c3c" stroke-width="0.3">1</text>
<text x="222.5" y="702.7" font-size="12.3" fill="#fa3c3c" text-anchor="middle" stroke="#fa3c3c" stroke-width="0.3">2</text>
<text x="317.3" y="716.2" font-size="12.3" fill="#fa3c3c" text-anchor="middle" stroke="#fa3c3c" stroke-width="0.3">3</text>
<text x="412.1" y="722.6" font-size="12.3" fill="#fa3c3c" text-anchor="middle" stroke="#fa3c3c" stroke-width="0.3">4</text>
<text x="506.9" y="737.6" font-size="12.3" fill="#fa3c3c" text-anchor="middle" stroke="#fa3c3c" stroke-width="0.3">5</text>
<text x="601.7" y="758.2" font-size="12.3" fill="#fa3c3c" text-anchor="middle" stroke="#fa3c3c" stroke-width="0.3">6</text>
<text x="696.5" y="749.5" font-size="12.3" fill="#fa3c3c" text-anchor="middle" stroke="#fa3c3c" stroke-width="0.3">7</text>
<text x="127.7" y="686.5" font-size="12.3" fill="#00dc00" text-anchor="middle" stroke="#00dc00" stroke-width="0.3">1</text>
<text x="222.5" y="677.1" font-size="12.3" fill="#00dc00" text-anchor="middle" stroke="#00dc00" stroke-width="0.3">2</text>
<text x="317.3" y="675.3" font-size="12.3" fill="#00dc00" text-anchor="middle" stroke="#00dc00" stroke-width="0.3">3</text>
<text x="412.1" y="659.2" font-size="12.3" fill="#00dc00" text-anchor="middle" stroke="#00dc00" stroke-width="0.3">4</text>
<text x="506.9" y="660.9" font-size="12.3" fill="#00dc00" text-anchor="middle" stroke="#00dc00" stroke-width="0.3">5</text>
<text x="601.7" y="694.0" font-size="12.3" fill="#00dc00" text-anchor="middle" stroke="#00dc00" stroke-width="0.3">6</text>
<text x="696.5" y="717.2" font-size="12.3" fill="#00dc00" text-anchor="middle" stroke="#00dc00" stroke-width="0.3">7</text>
<text x="127.7" y="830.9" font-size="12.3" fill="#1e3cff" text-anchor="middle" stroke="#1e3cff" stroke-width="0.3">1</text>
<text x="222.5" y="814.0" font-size="12.3" fill="#1e3cff" text-anchor="middle" stroke="#1e3cff" stroke-width="0.3">2</text>
<text x="317.3" y="768.2" font-size="12.3" fill="#1e3cff" text-anchor="middle" stroke="#1e3cff" stroke-width="0.3">3</text>
<text x="412.1" y="753.8" font-size="12.3" fill="#1e3cff" text-anchor="middle" stroke="#1e3cff" stroke-width="0.3">4</text>
<text x="506.9" y="742.8" font-size="12.3" fill="#1e3cff" text-anchor="middle" stroke="#1e3cff" stroke-width="0.3">5</text>
<text x="601.7" y="669.9" font-size="12.3" fill="#1e3cff" text-anchor="middle" stroke="#1e3cff" stroke-width="0.3">6</text>
<text x="696.5" y="684.1" font-size="12.3" fill="#1e3cff" text-anchor="middle" stroke="#1e3cff" stroke-width="0.3">7</text>
<text x="19.6" y="873.3" font-size="11.3" fill="#000" textLength="26.6" lengthAdjust="spacingAndGlyphs" stroke="#000" stroke-width="0.25">Mi00</text>
<text x="19.6" y="883.4" font-size="11.3" fill="#000" textLength="38.8" lengthAdjust="spacingAndGlyphs" stroke="#000" stroke-width="0.25">04.Jun</text>
<line x1="80.3" y1="856.1" x2="80.3" y2="860.6" stroke="#000" stroke-width="1"/>
<text x="67.0" y="873.3" font-size="11.3" fill="#000" textLength="26.6" lengthAdjust="spacingAndGlyphs" stroke="#000" stroke-width="0.25">Mi12</text>
<line x1="127.7" y1="856.1" x2="127.7" y2="860.6" stroke="#000" stroke-width="1"/>
<text x="113.4" y="873.3" font-size="11.3" fill="#000" textLength="28.5" lengthAdjust="spacingAndGlyphs" stroke="#000" stroke-width="0.25">Do00</text>
<text x="113.4" y="883.4" font-size="11.3" fill="#000" textLength="38.8" lengthAdjust="spacingAndGlyphs" stroke="#000" stroke-width="0.25">05.Jun</text>
<line x1="175.1" y1="856.1" x2="175.1" y2="860.6" stroke="#000" stroke-width="1"/>
<text x="160.8" y="873.3" font-size="11.3" fill="#000" textLength="28.5" lengthAdjust="spacingAndGlyphs" stroke="#000" stroke-width="0.25">Do12</text>
<line x1="222.5" y1="856.1" x2="222.5" y2="860.6" stroke="#000" stroke-width="1"/>
<text x="209.5" y="873.3" font-size="11.3" fill="#000" textLength="26.0" lengthAdjust="spacingAndGlyphs" stroke="#000" stroke-width="0.25">Fr00</text>
<text x="209.5" y="883.4" font-size="11.3" fill="#000" textLength="38.8" lengthAdjust="spacingAndGlyphs" stroke="#000" stroke-width="0.25">06.Jun</text>
<line x1="269.9" y1="856.1" x2="269.9" y2="860.6" stroke="#000" stroke-width="1"/>
<text x="256.9" y="873.3" font-size="11.3" fill="#000" textLength="26.0" lengthAdjust="spacingAndGlyphs" stroke="#000" stroke-width="0.25">Fr12</text>
<line x1="317.3" y1="856.1" x2="317.3" y2="860.6" stroke="#000" stroke-width="1"/>
<text x="303.0" y="873.3" font-size="11.3" fill="#000" textLength="28.5" lengthAdjust="spacingAndGlyphs" stroke="#000" stroke-width="0.25">Sa00</text>
<text x="303.0" y="883.4" font-size="11.3" fill="#000" textLength="38.8" lengthAdjust="spacingAndGlyphs" stroke="#000" stroke-width="0.25">07.Jun</text>
<line x1="364.7" y1="856.1" x2="364.7" y2="860.6" stroke="#000" stroke-width="1"/>
<text x="350.4" y="873.3" font-size="11.3" fill="#000" textLength="28.5" lengthAdjust="spacingAndGlyphs" stroke="#000" stroke-width="0.25">Sa12</text>
<line x1="412.1" y1="856.1" x2="412.1" y2="860.6" stroke="#000" stroke-width="1"/>
<text x="397.8" y="873.3" font-size="11.3" fill="#000" textLength="28.5" lengthAdjust="spacingAndGlyphs" stroke="#000" stroke-width="0.25">So00</text>
<text x="397.8" y="883.4" font-size="11.3" fill="#000" textLength="38.8" lengthAdjust="spacingAndGlyphs" stroke="#000" stroke-width="0.25">08.Jun</text>
<line x1="459.5" y1="856.1" x2="459.5" y2="860.6" stroke="#000" stroke-width="1"/>
<text x="445.2" y="873.3" font-size="11.3" fill="#000" textLength="28.5" lengthAdjust="spacingAndGlyphs" stroke="#000" stroke-width="0.25">So12</text>
<line x1="506.9" y1="856.1" x2="506.9" y2="860.6" stroke="#000" stroke-width="1"/>
<text x="491.4" y="873.3" font-size="11.3" fill="#000" textLength="30.9" lengthAdjust="spacingAndGlyphs" stroke="#000" stroke-width="0.25">Mo00</text>
<text x="491.4" y="883.4" font-size="11.3" fill="#000" textLength="38.8" lengthAdjust="spacingAndGlyphs" stroke="#000" stroke-width="0.25">09.Jun</text>
<line x1="554.3" y1="856.1" x2="554.3" y2="860.6" stroke="#000" stroke-width="1"/>
<text x="538.8" y="873.3" font-size="11.3" fill="#000" textLength="30.9" lengthAdjust="spacingAndGlyphs" stroke="#000" stroke-width="0.25">Mo12</text>
<line x1="601.7" y1="856.1" x2="601.7" y2="860.6" stroke="#000" stroke-width="1"/>
<text x="589.0" y="873.3" font-size="11.3" fill="#000" textLength="25.3" lengthAdjust="spacingAndGlyphs" stroke="#000" stroke-width="0.25">Di00</text>
<text x="589.0" y="883.4" font-size="11.3" fill="#000" textLength="38.8" lengthAdjust="spacingAndGlyphs" stroke="#000" stroke-width="0.25">10.Jun</text>
<line x1="649.1" y1="856.1" x2="649.1" y2="860.6" stroke="#000" stroke-width="1"/>
<text x="636.4" y="873.3" font-size="11.3" fill="#000" textLength="25.3" lengthAdjust="spacingAndGlyphs" stroke="#000" stroke-width="0.25">Di12</text>
<text x="683.2" y="873.3" font-size="11.3" fill="#000" textLength="26.6" lengthAdjust="spacingAndGlyphs" stroke="#000" stroke-width="0.25">Mi00</text>
<text x="683.2" y="883.4" font-size="11.3" fill="#000" textLength="38.8" lengthAdjust="spacingAndGlyphs" stroke="#000" stroke-width="0.25">11.Jun</text>
<text x="19.6" y="893.6" font-size="11.3" fill="#000" textLength="29.5" lengthAdjust="spacingAndGlyphs" stroke="#000" stroke-width="0.25">2025</text>
<text x="698.8" y="862.0" font-size="11.3" fill="#000" textLength="23.2" lengthAdjust="spacingAndGlyphs" stroke="#000" stroke-width="0.25">UTC</text>
</svg></body></html>
